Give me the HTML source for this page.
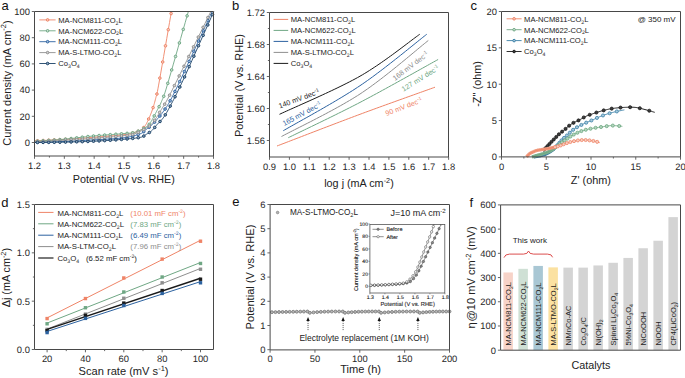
<!DOCTYPE html>
<html><head><meta charset="utf-8"><style>
html,body{margin:0;padding:0;background:#fff;}
svg{display:block;}
text{font-family:"Liberation Sans", sans-serif;}
.g{text-rendering:geometricPrecision;}
</style></head><body>
<svg xmlns="http://www.w3.org/2000/svg" width="685" height="378" viewBox="0 0 685 378" font-family='"Liberation Sans", sans-serif'>
<rect width="685" height="378" fill="#fff"/>
<text x="1.4" y="10.4" font-size="13" text-anchor="start" fill="#111">a</text>
<text x="232.1" y="9.9" font-size="13" text-anchor="start" fill="#111">b</text>
<text x="470.6" y="10.4" font-size="13" text-anchor="start" fill="#111">c</text>
<text x="1.3" y="206.6" font-size="13" text-anchor="start" fill="#111">d</text>
<text x="232.2" y="206.4" font-size="13" text-anchor="start" fill="#111">e</text>
<text x="469.6" y="206.6" font-size="13" text-anchor="start" fill="#111">f</text>
<g>
<polyline points="34.5,140.93 36.28,140.84 38.56,140.72 41.26,140.59 44.29,140.44 47.55,140.27 50.97,140.1 54.44,139.92 57.89,139.73 61.22,139.54 64.33,139.36 67.32,139.17 70.3,138.98 73.28,138.78 76.27,138.58 79.25,138.37 82.23,138.16 85.22,137.94 88.2,137.72 91.18,137.49 94.17,137.26 97.23,137.02 100.42,136.77 103.68,136.51 106.96,136.25 110.2,135.98 113.36,135.71 116.37,135.44 119.18,135.17 121.74,134.9 124,134.64 125.95,134.38 127.65,134.11 129.12,133.83 130.41,133.56 131.53,133.29 132.53,133.02 133.44,132.76 134.29,132.5 135.11,132.26 135.93,132.02 136.7,131.81 137.36,131.62 137.91,131.44 138.39,131.28 138.8,131.12 139.18,130.95 139.54,130.77 139.9,130.56 140.29,130.33 140.71,130.06 141.15,129.76 141.58,129.45 142.01,129.13 142.43,128.79 142.85,128.43 143.26,128.04 143.67,127.62 144.08,127.16 144.48,126.66 144.88,126.12 145.28,125.54 145.68,124.92 146.07,124.25 146.46,123.56 146.84,122.83 147.22,122.07 147.61,121.28 147.99,120.47 148.38,119.64 148.76,118.79 149.15,117.91 149.55,117.01 149.94,116.08 150.34,115.12 150.74,114.14 151.13,113.14 151.52,112.12 151.9,111.08 152.28,110.03 152.64,108.96 153,107.88 153.34,106.78 153.69,105.66 154.02,104.51 154.36,103.36 154.68,102.19 155,101.01 155.31,99.82 155.62,98.63 155.92,97.44 156.17,96.51 156.33,96 156.45,95.73 156.55,95.51 156.67,95.16 156.83,94.5 157.07,93.35 157.43,91.52 157.93,88.84 158.61,85.12 159.54,79.91 160.73,73.14 162.11,65.22 163.62,56.55 165.19,47.54 166.74,38.59 168.21,30.11 169.53,22.49 170.63,16.16 171.44,11.5" fill="none" stroke="#EF8467" stroke-width="0.9" stroke-linejoin="round"/>
<circle cx="37.5" cy="140.78" r="1.3" fill="#F8CDBF" stroke="#EF8467" stroke-width="1"/>
<circle cx="43.1" cy="140.5" r="1.3" fill="#F8CDBF" stroke="#EF8467" stroke-width="1"/>
<circle cx="48.7" cy="140.21" r="1.3" fill="#F8CDBF" stroke="#EF8467" stroke-width="1"/>
<circle cx="54.3" cy="139.92" r="1.3" fill="#F8CDBF" stroke="#EF8467" stroke-width="1"/>
<circle cx="59.9" cy="139.62" r="1.3" fill="#F8CDBF" stroke="#EF8467" stroke-width="1"/>
<circle cx="65.5" cy="139.28" r="1.3" fill="#F8CDBF" stroke="#EF8467" stroke-width="1"/>
<circle cx="71.1" cy="138.93" r="1.3" fill="#F8CDBF" stroke="#EF8467" stroke-width="1"/>
<circle cx="76.69" cy="138.55" r="1.3" fill="#F8CDBF" stroke="#EF8467" stroke-width="1"/>
<circle cx="82.29" cy="138.16" r="1.3" fill="#F8CDBF" stroke="#EF8467" stroke-width="1"/>
<circle cx="87.89" cy="137.74" r="1.3" fill="#F8CDBF" stroke="#EF8467" stroke-width="1"/>
<circle cx="93.49" cy="137.31" r="1.3" fill="#F8CDBF" stroke="#EF8467" stroke-width="1"/>
<circle cx="99.09" cy="136.87" r="1.3" fill="#F8CDBF" stroke="#EF8467" stroke-width="1"/>
<circle cx="104.69" cy="136.43" r="1.3" fill="#F8CDBF" stroke="#EF8467" stroke-width="1"/>
<circle cx="110.28" cy="135.98" r="1.3" fill="#F8CDBF" stroke="#EF8467" stroke-width="1"/>
<circle cx="115.88" cy="135.49" r="1.3" fill="#F8CDBF" stroke="#EF8467" stroke-width="1"/>
<circle cx="121.48" cy="134.93" r="1.3" fill="#F8CDBF" stroke="#EF8467" stroke-width="1"/>
<circle cx="127.08" cy="134.2" r="1.3" fill="#F8CDBF" stroke="#EF8467" stroke-width="1"/>
<circle cx="132.66" cy="132.98" r="1.3" fill="#F8CDBF" stroke="#EF8467" stroke-width="1"/>
<circle cx="138.24" cy="131.33" r="1.3" fill="#F8CDBF" stroke="#EF8467" stroke-width="1"/>
<circle cx="143.72" cy="127.56" r="1.3" fill="#F8CDBF" stroke="#EF8467" stroke-width="1"/>
<circle cx="148.67" cy="118.99" r="1.3" fill="#F8CDBF" stroke="#EF8467" stroke-width="1"/>
<circle cx="153.09" cy="107.57" r="1.3" fill="#F8CDBF" stroke="#EF8467" stroke-width="1"/>
<circle cx="156.93" cy="94.03" r="1.3" fill="#F8CDBF" stroke="#EF8467" stroke-width="1"/>
<circle cx="159.85" cy="78.12" r="1.3" fill="#F8CDBF" stroke="#EF8467" stroke-width="1"/>
<circle cx="162.68" cy="61.99" r="1.3" fill="#F8CDBF" stroke="#EF8467" stroke-width="1"/>
<circle cx="165.48" cy="45.84" r="1.3" fill="#F8CDBF" stroke="#EF8467" stroke-width="1"/>
<circle cx="168.28" cy="29.68" r="1.3" fill="#F8CDBF" stroke="#EF8467" stroke-width="1"/>
<circle cx="171.09" cy="13.51" r="1.3" fill="#F8CDBF" stroke="#EF8467" stroke-width="1"/>
<polyline points="34.5,141.32 36.29,141.2 38.61,141.05 41.35,140.88 44.43,140.68 47.74,140.46 51.18,140.23 54.66,139.99 58.08,139.74 61.34,139.48 64.33,139.22 67.11,138.96 69.8,138.67 72.42,138.38 75,138.07 77.57,137.75 80.16,137.43 82.78,137.12 85.48,136.8 88.27,136.5 91.18,136.21 94.33,135.93 97.73,135.64 101.31,135.35 104.98,135.06 108.65,134.78 112.24,134.51 115.66,134.25 118.81,134.01 121.62,133.79 124,133.59 125.92,133.43 127.47,133.32 128.7,133.23 129.68,133.16 130.47,133.1 131.14,133.04 131.75,132.96 132.36,132.86 133.04,132.73 133.84,132.54 134.73,132.32 135.59,132.07 136.43,131.8 137.25,131.51 138.06,131.19 138.85,130.86 139.63,130.52 140.39,130.15 141.15,129.78 141.9,129.4 142.65,129.01 143.4,128.6 144.14,128.18 144.87,127.74 145.59,127.29 146.29,126.82 146.96,126.34 147.6,125.85 148.2,125.34 148.76,124.81 149.27,124.28 149.72,123.73 150.14,123.17 150.51,122.6 150.87,122.01 151.21,121.4 151.55,120.78 151.89,120.13 152.25,119.47 152.64,118.79 153.04,118.08 153.45,117.36 153.86,116.61 154.27,115.85 154.68,115.06 155.1,114.26 155.52,113.45 155.95,112.62 156.38,111.78 156.82,110.93 157.26,110.09 157.69,109.28 158.13,108.47 158.58,107.66 159.03,106.82 159.48,105.94 159.95,104.99 160.43,103.97 160.93,102.86 161.44,101.63 161.91,100.53 162.28,99.7 162.62,99 162.95,98.29 163.32,97.4 163.77,96.18 164.35,94.5 165.1,92.19 166.05,89.12 167.26,85.12 168.84,79.74 170.84,72.88 173.13,64.91 175.61,56.25 178.17,47.28 180.7,38.39 183.09,29.97 185.24,22.43 187.03,16.14 188.35,11.5" fill="none" stroke="#6FA784" stroke-width="0.9" stroke-linejoin="round"/>
<circle cx="37.5" cy="141.12" r="1.3" fill="#CDE3D5" stroke="#6FA784" stroke-width="1"/>
<circle cx="43.1" cy="140.76" r="1.3" fill="#CDE3D5" stroke="#6FA784" stroke-width="1"/>
<circle cx="48.7" cy="140.4" r="1.3" fill="#CDE3D5" stroke="#6FA784" stroke-width="1"/>
<circle cx="54.3" cy="140.01" r="1.3" fill="#CDE3D5" stroke="#6FA784" stroke-width="1"/>
<circle cx="59.89" cy="139.59" r="1.3" fill="#CDE3D5" stroke="#6FA784" stroke-width="1"/>
<circle cx="65.49" cy="139.11" r="1.3" fill="#CDE3D5" stroke="#6FA784" stroke-width="1"/>
<circle cx="71.09" cy="138.53" r="1.3" fill="#CDE3D5" stroke="#6FA784" stroke-width="1"/>
<circle cx="76.69" cy="137.86" r="1.3" fill="#CDE3D5" stroke="#6FA784" stroke-width="1"/>
<circle cx="82.28" cy="137.18" r="1.3" fill="#CDE3D5" stroke="#6FA784" stroke-width="1"/>
<circle cx="87.88" cy="136.54" r="1.3" fill="#CDE3D5" stroke="#6FA784" stroke-width="1"/>
<circle cx="93.48" cy="136" r="1.3" fill="#CDE3D5" stroke="#6FA784" stroke-width="1"/>
<circle cx="99.08" cy="135.53" r="1.3" fill="#CDE3D5" stroke="#6FA784" stroke-width="1"/>
<circle cx="104.67" cy="135.08" r="1.3" fill="#CDE3D5" stroke="#6FA784" stroke-width="1"/>
<circle cx="110.27" cy="134.66" r="1.3" fill="#CDE3D5" stroke="#6FA784" stroke-width="1"/>
<circle cx="115.87" cy="134.23" r="1.3" fill="#CDE3D5" stroke="#6FA784" stroke-width="1"/>
<circle cx="121.47" cy="133.8" r="1.3" fill="#CDE3D5" stroke="#6FA784" stroke-width="1"/>
<circle cx="127.07" cy="133.35" r="1.3" fill="#CDE3D5" stroke="#6FA784" stroke-width="1"/>
<circle cx="132.66" cy="132.8" r="1.3" fill="#CDE3D5" stroke="#6FA784" stroke-width="1"/>
<circle cx="138.24" cy="131.12" r="1.3" fill="#CDE3D5" stroke="#6FA784" stroke-width="1"/>
<circle cx="143.78" cy="128.38" r="1.3" fill="#CDE3D5" stroke="#6FA784" stroke-width="1"/>
<circle cx="149.24" cy="124.31" r="1.3" fill="#CDE3D5" stroke="#6FA784" stroke-width="1"/>
<circle cx="154.23" cy="115.91" r="1.3" fill="#CDE3D5" stroke="#6FA784" stroke-width="1"/>
<circle cx="159.1" cy="106.68" r="1.3" fill="#CDE3D5" stroke="#6FA784" stroke-width="1"/>
<circle cx="163.74" cy="96.27" r="1.3" fill="#CDE3D5" stroke="#6FA784" stroke-width="1"/>
<circle cx="167.78" cy="83.35" r="1.3" fill="#CDE3D5" stroke="#6FA784" stroke-width="1"/>
<circle cx="171.68" cy="69.95" r="1.3" fill="#CDE3D5" stroke="#6FA784" stroke-width="1"/>
<circle cx="175.55" cy="56.45" r="1.3" fill="#CDE3D5" stroke="#6FA784" stroke-width="1"/>
<circle cx="179.41" cy="42.92" r="1.3" fill="#CDE3D5" stroke="#6FA784" stroke-width="1"/>
<circle cx="183.26" cy="29.38" r="1.3" fill="#CDE3D5" stroke="#6FA784" stroke-width="1"/>
<circle cx="187.11" cy="15.83" r="1.3" fill="#CDE3D5" stroke="#6FA784" stroke-width="1"/>
<polyline points="34.5,142.24 36.28,142.19 38.56,142.14 41.26,142.08 44.29,142.02 47.55,141.94 50.97,141.86 54.44,141.77 57.89,141.67 61.22,141.57 64.33,141.45 67.32,141.33 70.3,141.2 73.28,141.05 76.27,140.9 79.25,140.75 82.23,140.58 85.22,140.41 88.2,140.24 91.18,140.06 94.17,139.88 97.21,139.7 100.35,139.52 103.55,139.35 106.76,139.17 109.94,138.98 113.05,138.78 116.06,138.56 118.91,138.33 121.57,138.07 124,137.78 126.22,137.46 128.27,137.11 130.18,136.74 131.95,136.34 133.59,135.93 135.1,135.5 136.5,135.08 137.8,134.66 139,134.25 140.11,133.85 141.08,133.47 141.85,133.1 142.48,132.73 142.98,132.36 143.4,132 143.77,131.62 144.12,131.25 144.49,130.86 144.91,130.47 145.42,130.06 145.99,129.64 146.56,129.22 147.14,128.8 147.73,128.37 148.33,127.93 148.92,127.48 149.52,127.01 150.12,126.53 150.73,126.01 151.33,125.47 151.93,124.9 152.53,124.31 153.13,123.69 153.74,123.05 154.35,122.4 154.96,121.73 155.57,121.04 156.18,120.35 156.8,119.64 157.41,118.92 158.03,118.2 158.65,117.47 159.27,116.74 159.89,116 160.52,115.24 161.14,114.46 161.77,113.65 162.4,112.82 163.04,111.96 163.68,111.06 164.31,110.16 164.91,109.29 165.51,108.42 166.11,107.53 166.72,106.61 167.34,105.61 168,104.54 168.7,103.36 169.44,102.04 170.24,100.58 171.07,99.03 171.91,97.44 172.76,95.8 173.64,94.06 174.57,92.2 175.55,90.2 176.62,88.02 177.76,85.64 179.02,83.02 180.39,80.14 181.92,76.89 183.63,73.22 185.48,69.24 187.43,65.03 189.44,60.68 191.46,56.3 193.45,51.96 195.38,47.77 197.21,43.82 198.88,40.19 200.48,36.73 202.08,33.27 203.67,29.85 205.21,26.53 206.68,23.35 208.05,20.37 209.31,17.64 210.44,15.22 211.39,13.16 212.16,11.5" fill="none" stroke="#2C62A0" stroke-width="0.9" stroke-linejoin="round"/>
<circle cx="37.5" cy="142.17" r="1.3" fill="#A7C0DC" stroke="#2C62A0" stroke-width="1"/>
<circle cx="43.1" cy="142.04" r="1.3" fill="#A7C0DC" stroke="#2C62A0" stroke-width="1"/>
<circle cx="48.7" cy="141.92" r="1.3" fill="#A7C0DC" stroke="#2C62A0" stroke-width="1"/>
<circle cx="54.3" cy="141.77" r="1.3" fill="#A7C0DC" stroke="#2C62A0" stroke-width="1"/>
<circle cx="59.9" cy="141.61" r="1.3" fill="#A7C0DC" stroke="#2C62A0" stroke-width="1"/>
<circle cx="65.5" cy="141.4" r="1.3" fill="#A7C0DC" stroke="#2C62A0" stroke-width="1"/>
<circle cx="71.1" cy="141.16" r="1.3" fill="#A7C0DC" stroke="#2C62A0" stroke-width="1"/>
<circle cx="76.7" cy="140.88" r="1.3" fill="#A7C0DC" stroke="#2C62A0" stroke-width="1"/>
<circle cx="82.3" cy="140.58" r="1.3" fill="#A7C0DC" stroke="#2C62A0" stroke-width="1"/>
<circle cx="87.9" cy="140.26" r="1.3" fill="#A7C0DC" stroke="#2C62A0" stroke-width="1"/>
<circle cx="93.5" cy="139.92" r="1.3" fill="#A7C0DC" stroke="#2C62A0" stroke-width="1"/>
<circle cx="99.09" cy="139.59" r="1.3" fill="#A7C0DC" stroke="#2C62A0" stroke-width="1"/>
<circle cx="104.69" cy="139.28" r="1.3" fill="#A7C0DC" stroke="#2C62A0" stroke-width="1"/>
<circle cx="110.29" cy="138.96" r="1.3" fill="#A7C0DC" stroke="#2C62A0" stroke-width="1"/>
<circle cx="115.89" cy="138.58" r="1.3" fill="#A7C0DC" stroke="#2C62A0" stroke-width="1"/>
<circle cx="121.49" cy="138.08" r="1.3" fill="#A7C0DC" stroke="#2C62A0" stroke-width="1"/>
<circle cx="127.08" cy="137.32" r="1.3" fill="#A7C0DC" stroke="#2C62A0" stroke-width="1"/>
<circle cx="132.67" cy="136.16" r="1.3" fill="#A7C0DC" stroke="#2C62A0" stroke-width="1"/>
<circle cx="138.25" cy="134.51" r="1.3" fill="#A7C0DC" stroke="#2C62A0" stroke-width="1"/>
<circle cx="143.77" cy="131.62" r="1.3" fill="#A7C0DC" stroke="#2C62A0" stroke-width="1"/>
<circle cx="149.22" cy="127.25" r="1.3" fill="#A7C0DC" stroke="#2C62A0" stroke-width="1"/>
<circle cx="154.6" cy="122.12" r="1.3" fill="#A7C0DC" stroke="#2C62A0" stroke-width="1"/>
<circle cx="159.89" cy="116" r="1.3" fill="#A7C0DC" stroke="#2C62A0" stroke-width="1"/>
<circle cx="165.08" cy="109.05" r="1.3" fill="#A7C0DC" stroke="#2C62A0" stroke-width="1"/>
<circle cx="170.11" cy="100.82" r="1.3" fill="#A7C0DC" stroke="#2C62A0" stroke-width="1"/>
<circle cx="174.95" cy="91.43" r="1.3" fill="#A7C0DC" stroke="#2C62A0" stroke-width="1"/>
<circle cx="179.7" cy="81.58" r="1.3" fill="#A7C0DC" stroke="#2C62A0" stroke-width="1"/>
<circle cx="184.42" cy="71.52" r="1.3" fill="#A7C0DC" stroke="#2C62A0" stroke-width="1"/>
<circle cx="189.12" cy="61.37" r="1.3" fill="#A7C0DC" stroke="#2C62A0" stroke-width="1"/>
<circle cx="193.81" cy="51.18" r="1.3" fill="#A7C0DC" stroke="#2C62A0" stroke-width="1"/>
<circle cx="198.51" cy="41" r="1.3" fill="#A7C0DC" stroke="#2C62A0" stroke-width="1"/>
<circle cx="203.21" cy="30.85" r="1.3" fill="#A7C0DC" stroke="#2C62A0" stroke-width="1"/>
<circle cx="207.9" cy="20.69" r="1.3" fill="#A7C0DC" stroke="#2C62A0" stroke-width="1"/>
<polyline points="34.5,141.84 36.28,141.75 38.56,141.64 41.26,141.5 44.29,141.35 47.55,141.18 50.97,141.01 54.44,140.82 57.89,140.64 61.22,140.45 64.33,140.27 67.32,140.1 70.3,139.92 73.28,139.73 76.27,139.55 79.25,139.36 82.23,139.16 85.22,138.96 88.2,138.75 91.18,138.53 94.17,138.31 97.23,138.07 100.42,137.82 103.68,137.56 106.96,137.29 110.2,137.02 113.36,136.75 116.37,136.48 119.18,136.21 121.74,135.94 124,135.69 125.91,135.47 127.5,135.29 128.83,135.13 129.96,134.99 130.95,134.84 131.86,134.66 132.76,134.43 133.7,134.15 134.73,133.79 135.93,133.33 137.29,132.76 138.74,132.1 140.25,131.36 141.8,130.56 143.34,129.71 144.86,128.84 146.31,127.96 147.68,127.1 148.92,126.26 150.01,125.47 150.95,124.72 151.75,123.99 152.44,123.27 153.04,122.55 153.58,121.84 154.07,121.13 154.54,120.4 155.01,119.67 155.51,118.91 156.04,118.13 156.59,117.34 157.13,116.53 157.65,115.71 158.16,114.88 158.67,114.04 159.18,113.19 159.69,112.32 160.21,111.43 160.74,110.53 161.29,109.62 161.84,108.72 162.38,107.87 162.91,107.04 163.44,106.2 163.99,105.33 164.56,104.4 165.16,103.4 165.81,102.29 166.5,101.05 167.26,99.66 168.04,98.19 168.82,96.7 169.62,95.15 170.44,93.52 171.32,91.78 172.27,89.88 173.3,87.8 174.44,85.51 175.7,82.97 177.1,80.14 178.7,76.93 180.5,73.28 182.47,69.3 184.54,65.09 186.69,60.74 188.85,56.34 190.99,51.99 193.06,47.79 195.01,43.82 196.79,40.19 198.49,36.73 200.18,33.27 201.86,29.85 203.48,26.53 205.03,23.35 206.49,20.37 207.82,17.64 209,15.22 210.01,13.16 210.81,11.5" fill="none" stroke="#8E8E8E" stroke-width="0.9" stroke-linejoin="round"/>
<circle cx="37.5" cy="141.69" r="1.3" fill="#D2D2D2" stroke="#8E8E8E" stroke-width="1"/>
<circle cx="43.1" cy="141.41" r="1.3" fill="#D2D2D2" stroke="#8E8E8E" stroke-width="1"/>
<circle cx="48.7" cy="141.12" r="1.3" fill="#D2D2D2" stroke="#8E8E8E" stroke-width="1"/>
<circle cx="54.3" cy="140.83" r="1.3" fill="#D2D2D2" stroke="#8E8E8E" stroke-width="1"/>
<circle cx="59.9" cy="140.53" r="1.3" fill="#D2D2D2" stroke="#8E8E8E" stroke-width="1"/>
<circle cx="65.5" cy="140.2" r="1.3" fill="#D2D2D2" stroke="#8E8E8E" stroke-width="1"/>
<circle cx="71.1" cy="139.87" r="1.3" fill="#D2D2D2" stroke="#8E8E8E" stroke-width="1"/>
<circle cx="76.69" cy="139.52" r="1.3" fill="#D2D2D2" stroke="#8E8E8E" stroke-width="1"/>
<circle cx="82.29" cy="139.16" r="1.3" fill="#D2D2D2" stroke="#8E8E8E" stroke-width="1"/>
<circle cx="87.89" cy="138.77" r="1.3" fill="#D2D2D2" stroke="#8E8E8E" stroke-width="1"/>
<circle cx="93.49" cy="138.36" r="1.3" fill="#D2D2D2" stroke="#8E8E8E" stroke-width="1"/>
<circle cx="99.09" cy="137.93" r="1.3" fill="#D2D2D2" stroke="#8E8E8E" stroke-width="1"/>
<circle cx="104.69" cy="137.48" r="1.3" fill="#D2D2D2" stroke="#8E8E8E" stroke-width="1"/>
<circle cx="110.29" cy="137.02" r="1.3" fill="#D2D2D2" stroke="#8E8E8E" stroke-width="1"/>
<circle cx="115.88" cy="136.52" r="1.3" fill="#D2D2D2" stroke="#8E8E8E" stroke-width="1"/>
<circle cx="121.48" cy="135.97" r="1.3" fill="#D2D2D2" stroke="#8E8E8E" stroke-width="1"/>
<circle cx="127.08" cy="135.33" r="1.3" fill="#D2D2D2" stroke="#8E8E8E" stroke-width="1"/>
<circle cx="132.67" cy="134.46" r="1.3" fill="#D2D2D2" stroke="#8E8E8E" stroke-width="1"/>
<circle cx="138.23" cy="132.33" r="1.3" fill="#D2D2D2" stroke="#8E8E8E" stroke-width="1"/>
<circle cx="143.77" cy="129.47" r="1.3" fill="#D2D2D2" stroke="#8E8E8E" stroke-width="1"/>
<circle cx="149.27" cy="126.01" r="1.3" fill="#D2D2D2" stroke="#8E8E8E" stroke-width="1"/>
<circle cx="154.59" cy="120.33" r="1.3" fill="#D2D2D2" stroke="#8E8E8E" stroke-width="1"/>
<circle cx="159.65" cy="112.38" r="1.3" fill="#D2D2D2" stroke="#8E8E8E" stroke-width="1"/>
<circle cx="164.69" cy="104.19" r="1.3" fill="#D2D2D2" stroke="#8E8E8E" stroke-width="1"/>
<circle cx="169.59" cy="95.2" r="1.3" fill="#D2D2D2" stroke="#8E8E8E" stroke-width="1"/>
<circle cx="174.4" cy="85.6" r="1.3" fill="#D2D2D2" stroke="#8E8E8E" stroke-width="1"/>
<circle cx="179.19" cy="75.94" r="1.3" fill="#D2D2D2" stroke="#8E8E8E" stroke-width="1"/>
<circle cx="183.97" cy="66.25" r="1.3" fill="#D2D2D2" stroke="#8E8E8E" stroke-width="1"/>
<circle cx="188.76" cy="56.54" r="1.3" fill="#D2D2D2" stroke="#8E8E8E" stroke-width="1"/>
<circle cx="193.54" cy="46.82" r="1.3" fill="#D2D2D2" stroke="#8E8E8E" stroke-width="1"/>
<circle cx="198.32" cy="37.09" r="1.3" fill="#D2D2D2" stroke="#8E8E8E" stroke-width="1"/>
<circle cx="203.09" cy="27.33" r="1.3" fill="#D2D2D2" stroke="#8E8E8E" stroke-width="1"/>
<circle cx="207.86" cy="17.56" r="1.3" fill="#D2D2D2" stroke="#8E8E8E" stroke-width="1"/>
<polyline points="34.5,142.5 36.28,142.48 38.56,142.45 41.26,142.43 44.29,142.4 47.55,142.36 50.97,142.32 54.44,142.28 57.89,142.23 61.22,142.17 64.33,142.11 67.32,142.04 70.3,141.97 73.28,141.9 76.27,141.83 79.25,141.75 82.23,141.66 85.22,141.56 88.2,141.45 91.18,141.33 94.17,141.19 97.21,141.04 100.34,140.86 103.53,140.68 106.73,140.48 109.9,140.27 113.01,140.06 116.01,139.85 118.87,139.63 121.55,139.43 124,139.22 126.26,139.03 128.37,138.84 130.35,138.65 132.2,138.46 133.92,138.28 135.51,138.08 136.99,137.89 138.34,137.69 139.58,137.48 140.71,137.26 141.66,137.04 142.4,136.82 142.97,136.6 143.4,136.38 143.75,136.15 144.04,135.9 144.31,135.65 144.62,135.38 145,135.09 145.48,134.77 146.05,134.44 146.65,134.1 147.27,133.75 147.91,133.38 148.56,132.99 149.21,132.59 149.86,132.16 150.51,131.71 151.14,131.22 151.75,130.71 152.33,130.16 152.9,129.57 153.46,128.95 154.01,128.31 154.56,127.64 155.11,126.96 155.67,126.26 156.23,125.56 156.81,124.86 157.41,124.16 158.03,123.49 158.65,122.84 159.28,122.22 159.92,121.58 160.56,120.93 161.22,120.25 161.89,119.51 162.57,118.71 163.27,117.82 163.98,116.82 164.69,115.76 165.39,114.65 166.1,113.5 166.82,112.28 167.56,110.99 168.32,109.63 169.11,108.18 169.93,106.63 170.81,104.97 171.73,103.2 172.69,101.35 173.67,99.46 174.66,97.51 175.7,95.47 176.77,93.32 177.89,91.04 179.07,88.6 180.33,85.99 181.65,83.18 183.07,80.14 184.62,76.78 186.31,73.05 188.12,69.04 190,64.84 191.93,60.52 193.86,56.17 195.77,51.88 197.61,47.73 199.36,43.8 200.97,40.19 202.52,36.73 204.07,33.27 205.6,29.85 207.08,26.53 208.5,23.35 209.83,20.37 211.05,17.64 212.13,15.22 213.06,13.16 213.8,11.5" fill="none" stroke="#1B4267" stroke-width="0.9" stroke-linejoin="round"/>
<circle cx="37.5" cy="142.47" r="1.3" fill="#8FA6BE" stroke="#1B4267" stroke-width="1"/>
<circle cx="43.1" cy="142.41" r="1.3" fill="#8FA6BE" stroke="#1B4267" stroke-width="1"/>
<circle cx="48.7" cy="142.35" r="1.3" fill="#8FA6BE" stroke="#1B4267" stroke-width="1"/>
<circle cx="54.3" cy="142.28" r="1.3" fill="#8FA6BE" stroke="#1B4267" stroke-width="1"/>
<circle cx="59.9" cy="142.19" r="1.3" fill="#8FA6BE" stroke="#1B4267" stroke-width="1"/>
<circle cx="65.5" cy="142.08" r="1.3" fill="#8FA6BE" stroke="#1B4267" stroke-width="1"/>
<circle cx="71.1" cy="141.96" r="1.3" fill="#8FA6BE" stroke="#1B4267" stroke-width="1"/>
<circle cx="76.7" cy="141.82" r="1.3" fill="#8FA6BE" stroke="#1B4267" stroke-width="1"/>
<circle cx="82.3" cy="141.66" r="1.3" fill="#8FA6BE" stroke="#1B4267" stroke-width="1"/>
<circle cx="87.9" cy="141.46" r="1.3" fill="#8FA6BE" stroke="#1B4267" stroke-width="1"/>
<circle cx="93.5" cy="141.22" r="1.3" fill="#8FA6BE" stroke="#1B4267" stroke-width="1"/>
<circle cx="99.1" cy="140.93" r="1.3" fill="#8FA6BE" stroke="#1B4267" stroke-width="1"/>
<circle cx="104.7" cy="140.61" r="1.3" fill="#8FA6BE" stroke="#1B4267" stroke-width="1"/>
<circle cx="110.3" cy="140.25" r="1.3" fill="#8FA6BE" stroke="#1B4267" stroke-width="1"/>
<circle cx="115.89" cy="139.86" r="1.3" fill="#8FA6BE" stroke="#1B4267" stroke-width="1"/>
<circle cx="121.49" cy="139.43" r="1.3" fill="#8FA6BE" stroke="#1B4267" stroke-width="1"/>
<circle cx="127.09" cy="138.96" r="1.3" fill="#8FA6BE" stroke="#1B4267" stroke-width="1"/>
<circle cx="132.69" cy="138.41" r="1.3" fill="#8FA6BE" stroke="#1B4267" stroke-width="1"/>
<circle cx="138.28" cy="137.69" r="1.3" fill="#8FA6BE" stroke="#1B4267" stroke-width="1"/>
<circle cx="143.86" cy="136.05" r="1.3" fill="#8FA6BE" stroke="#1B4267" stroke-width="1"/>
<circle cx="149.35" cy="132.5" r="1.3" fill="#8FA6BE" stroke="#1B4267" stroke-width="1"/>
<circle cx="154.73" cy="127.43" r="1.3" fill="#8FA6BE" stroke="#1B4267" stroke-width="1"/>
<circle cx="160.04" cy="121.46" r="1.3" fill="#8FA6BE" stroke="#1B4267" stroke-width="1"/>
<circle cx="165.27" cy="114.85" r="1.3" fill="#8FA6BE" stroke="#1B4267" stroke-width="1"/>
<circle cx="170.21" cy="106.1" r="1.3" fill="#8FA6BE" stroke="#1B4267" stroke-width="1"/>
<circle cx="175.05" cy="96.74" r="1.3" fill="#8FA6BE" stroke="#1B4267" stroke-width="1"/>
<circle cx="179.83" cy="87.01" r="1.3" fill="#8FA6BE" stroke="#1B4267" stroke-width="1"/>
<circle cx="184.55" cy="76.93" r="1.3" fill="#8FA6BE" stroke="#1B4267" stroke-width="1"/>
<circle cx="189.21" cy="66.6" r="1.3" fill="#8FA6BE" stroke="#1B4267" stroke-width="1"/>
<circle cx="193.86" cy="56.18" r="1.3" fill="#8FA6BE" stroke="#1B4267" stroke-width="1"/>
<circle cx="198.5" cy="45.73" r="1.3" fill="#8FA6BE" stroke="#1B4267" stroke-width="1"/>
<circle cx="203.15" cy="35.32" r="1.3" fill="#8FA6BE" stroke="#1B4267" stroke-width="1"/>
<circle cx="207.8" cy="24.92" r="1.3" fill="#8FA6BE" stroke="#1B4267" stroke-width="1"/>
<circle cx="212.45" cy="14.52" r="1.3" fill="#8FA6BE" stroke="#1B4267" stroke-width="1"/>
</g>
<path d="M34.5,11.5 H213.5 V156 H34.5 Z" fill="none" stroke="#484848" stroke-width="1"/>
<line x1="31.8" y1="142.5" x2="34.5" y2="142.5" stroke="#555" stroke-width="0.9"/>
<text x="29.9" y="145.88" font-size="9.4" text-anchor="end" fill="#262626" class="g">0</text>
<line x1="31.8" y1="116.3" x2="34.5" y2="116.3" stroke="#555" stroke-width="0.9"/>
<text x="29.9" y="119.68" font-size="9.4" text-anchor="end" fill="#262626" class="g">20</text>
<line x1="31.8" y1="90.1" x2="34.5" y2="90.1" stroke="#555" stroke-width="0.9"/>
<text x="29.9" y="93.48" font-size="9.4" text-anchor="end" fill="#262626" class="g">40</text>
<line x1="31.8" y1="63.9" x2="34.5" y2="63.9" stroke="#555" stroke-width="0.9"/>
<text x="29.9" y="67.28" font-size="9.4" text-anchor="end" fill="#262626" class="g">60</text>
<line x1="31.8" y1="37.7" x2="34.5" y2="37.7" stroke="#555" stroke-width="0.9"/>
<text x="29.9" y="41.08" font-size="9.4" text-anchor="end" fill="#262626" class="g">80</text>
<line x1="31.8" y1="11.5" x2="34.5" y2="11.5" stroke="#555" stroke-width="0.9"/>
<text x="29.9" y="14.88" font-size="9.4" text-anchor="end" fill="#262626" class="g">100</text>
<line x1="34.5" y1="156" x2="34.5" y2="158.8" stroke="#555" stroke-width="0.9"/>
<text x="34.5" y="168.6" font-size="9.4" text-anchor="middle" fill="#262626" class="g">1.2</text>
<line x1="64.33" y1="156" x2="64.33" y2="158.8" stroke="#555" stroke-width="0.9"/>
<text x="64.33" y="168.6" font-size="9.4" text-anchor="middle" fill="#262626" class="g">1.3</text>
<line x1="94.17" y1="156" x2="94.17" y2="158.8" stroke="#555" stroke-width="0.9"/>
<text x="94.17" y="168.6" font-size="9.4" text-anchor="middle" fill="#262626" class="g">1.4</text>
<line x1="124" y1="156" x2="124" y2="158.8" stroke="#555" stroke-width="0.9"/>
<text x="124" y="168.6" font-size="9.4" text-anchor="middle" fill="#262626" class="g">1.5</text>
<line x1="153.83" y1="156" x2="153.83" y2="158.8" stroke="#555" stroke-width="0.9"/>
<text x="153.83" y="168.6" font-size="9.4" text-anchor="middle" fill="#262626" class="g">1.6</text>
<line x1="183.67" y1="156" x2="183.67" y2="158.8" stroke="#555" stroke-width="0.9"/>
<text x="183.67" y="168.6" font-size="9.4" text-anchor="middle" fill="#262626" class="g">1.7</text>
<line x1="213.5" y1="156" x2="213.5" y2="158.8" stroke="#555" stroke-width="0.9"/>
<text x="213.5" y="168.6" font-size="9.4" text-anchor="middle" fill="#262626" class="g">1.8</text>
<line x1="49.42" y1="156" x2="49.42" y2="157.6" stroke="#555" stroke-width="0.9"/>
<line x1="79.25" y1="156" x2="79.25" y2="157.6" stroke="#555" stroke-width="0.9"/>
<line x1="109.08" y1="156" x2="109.08" y2="157.6" stroke="#555" stroke-width="0.9"/>
<line x1="138.92" y1="156" x2="138.92" y2="157.6" stroke="#555" stroke-width="0.9"/>
<line x1="168.75" y1="156" x2="168.75" y2="157.6" stroke="#555" stroke-width="0.9"/>
<line x1="198.58" y1="156" x2="198.58" y2="157.6" stroke="#555" stroke-width="0.9"/>
<text x="123.8" y="182.6" font-size="10.8" text-anchor="middle" fill="#222">Potential (V vs. RHE)</text>
<text x="10.5" y="83" font-size="11" text-anchor="middle" fill="#222" transform="rotate(-90 10.5 83)">Current density (mA cm<tspan class="g" font-size="7.48" dy="-4.4">-2</tspan><tspan dy="4.4">)</tspan></text>
<line x1="39.3" y1="19.9" x2="55.6" y2="19.9" stroke="#EF8467" stroke-width="0.9"/>
<circle cx="47.6" cy="19.9" r="1.3" fill="#F8CDBF" stroke="#EF8467" stroke-width="1"/>
<text x="58.3" y="22.6" font-size="7.6" text-anchor="start" fill="#222">MA-NCM811-CO<tspan class="g" font-size="5.17" dy="1.9">2</tspan><tspan dy="-1.9">L</tspan></text>
<line x1="39.3" y1="30.8" x2="55.6" y2="30.8" stroke="#6FA784" stroke-width="0.9"/>
<circle cx="47.6" cy="30.8" r="1.3" fill="#CDE3D5" stroke="#6FA784" stroke-width="1"/>
<text x="58.3" y="33.5" font-size="7.6" text-anchor="start" fill="#222">MA-NCM622-CO<tspan class="g" font-size="5.17" dy="1.9">2</tspan><tspan dy="-1.9">L</tspan></text>
<line x1="39.3" y1="41.7" x2="55.6" y2="41.7" stroke="#2C62A0" stroke-width="0.9"/>
<circle cx="47.6" cy="41.7" r="1.3" fill="#A7C0DC" stroke="#2C62A0" stroke-width="1"/>
<text x="58.3" y="44.4" font-size="7.6" text-anchor="start" fill="#222">MA-NCM111-CO<tspan class="g" font-size="5.17" dy="1.9">2</tspan><tspan dy="-1.9">L</tspan></text>
<line x1="39.3" y1="52.6" x2="55.6" y2="52.6" stroke="#8E8E8E" stroke-width="0.9"/>
<circle cx="47.6" cy="52.6" r="1.3" fill="#D2D2D2" stroke="#8E8E8E" stroke-width="1"/>
<text x="58.3" y="55.3" font-size="7.6" text-anchor="start" fill="#222">MA-S-LTMO-CO<tspan class="g" font-size="5.17" dy="1.9">2</tspan><tspan dy="-1.9">L</tspan></text>
<line x1="39.3" y1="63.5" x2="55.6" y2="63.5" stroke="#1B4267" stroke-width="0.9"/>
<circle cx="47.6" cy="63.5" r="1.3" fill="#8FA6BE" stroke="#1B4267" stroke-width="1"/>
<text x="58.3" y="66.2" font-size="7.6" text-anchor="start" fill="#222">Co<tspan class="g" font-size="5.17" dy="1.9">3</tspan><tspan dy="-1.9">O</tspan><tspan class="g" font-size="5.17" dy="1.9">4</tspan><tspan dy="-1.9"></tspan></text>
<polyline points="277,146 278.48,145.43 280.14,144.8 281.97,144.09 283.97,143.33 286.12,142.5 288.42,141.62 290.84,140.68 293.39,139.7 296.05,138.68 298.81,137.61 301.67,136.51 304.61,135.38 307.62,134.22 310.69,133.04 313.81,131.84 316.98,130.63 320.17,129.4 323.39,128.17 326.62,126.93 329.85,125.7 333.07,124.47 336.28,123.25 339.45,122.04 342.58,120.85 345.67,119.68 348.69,118.54 351.65,117.43 354.53,116.35 357.31,115.3 360,114.3 362.66,113.31 365.39,112.3 368.16,111.28 370.98,110.25 373.83,109.2 376.71,108.15 379.61,107.1 382.53,106.04 385.45,104.98 388.37,103.92 391.28,102.87 394.18,101.83 397.05,100.79 399.89,99.77 402.69,98.77 405.44,97.78 408.14,96.81 410.78,95.87 413.36,94.95 415.85,94.06 418.26,93.19 420.59,92.36 422.81,91.57 424.93,90.81 426.93,90.1 428.82,89.42 430.57,88.79 432.19,88.21 433.67,87.68 435,87.2" fill="none" stroke="#EF8467" stroke-width="1" stroke-linejoin="round"/>
<polyline points="288.3,137.7 289.57,137.08 290.98,136.39 292.54,135.63 294.22,134.82 296.03,133.95 297.95,133.02 299.98,132.04 302.11,131.02 304.34,129.94 306.65,128.83 309.04,127.68 311.51,126.49 314.04,125.26 316.63,124.01 319.27,122.73 321.95,121.43 324.67,120.1 327.42,118.76 330.19,117.41 332.97,116.04 335.76,114.66 338.55,113.28 341.33,111.89 344.1,110.51 346.85,109.13 349.57,107.76 352.25,106.4 354.89,105.05 357.47,103.71 360,102.4 362.55,101.07 365.18,99.67 367.9,98.22 370.69,96.73 373.55,95.19 376.46,93.62 379.41,92.02 382.4,90.39 385.42,88.74 388.45,87.07 391.49,85.4 394.53,83.73 397.55,82.06 400.56,80.39 403.53,78.74 406.47,77.11 409.35,75.51 412.18,73.94 414.93,72.4 417.61,70.9 420.21,69.46 422.71,68.06 425.1,66.73 427.38,65.46 429.53,64.26 431.55,63.13 433.42,62.09 435.15,61.13 436.71,60.27 438.1,59.5" fill="none" stroke="#6FA784" stroke-width="1" stroke-linejoin="round"/>
<polyline points="281.5,136.5 282.9,135.75 284.48,134.92 286.22,134.02 288.11,133.05 290.16,132 292.34,130.9 294.65,129.73 297.07,128.5 299.6,127.22 302.23,125.89 304.94,124.51 307.74,123.09 310.6,121.63 313.52,120.13 316.48,118.59 319.48,117.03 322.52,115.44 325.57,113.83 328.62,112.2 331.68,110.56 334.73,108.9 337.75,107.23 340.74,105.56 343.7,103.88 346.6,102.21 349.44,100.54 352.21,98.89 354.9,97.24 357.5,95.61 360,94 362.47,92.36 364.99,90.64 367.55,88.85 370.14,87.01 372.76,85.1 375.41,83.15 378.06,81.15 380.73,79.13 383.39,77.07 386.05,75 388.7,72.91 391.33,70.82 393.94,68.74 396.52,66.66 399.06,64.59 401.55,62.55 404,60.55 406.39,58.58 408.71,56.65 410.97,54.78 413.15,52.96 415.25,51.22 417.26,49.54 419.17,47.95 420.99,46.45 422.69,45.04 424.28,43.73 425.75,42.54 427.09,41.46 428.3,40.5" fill="none" stroke="#8E8E8E" stroke-width="1" stroke-linejoin="round"/>
<polyline points="283.3,130.7 284.67,129.9 286.21,129.02 287.91,128.05 289.76,127 291.76,125.88 293.89,124.68 296.15,123.42 298.51,122.09 300.99,120.71 303.56,119.27 306.21,117.78 308.94,116.25 311.73,114.67 314.58,113.06 317.48,111.41 320.42,109.74 323.38,108.04 326.36,106.32 329.35,104.59 332.33,102.84 335.31,101.09 338.26,99.33 341.19,97.58 344.07,95.83 346.91,94.09 349.68,92.37 352.39,90.66 355.02,88.98 357.56,87.32 360,85.7 362.41,84.06 364.88,82.35 367.38,80.59 369.91,78.77 372.47,76.91 375.05,75.01 377.64,73.07 380.24,71.11 382.85,69.13 385.44,67.14 388.03,65.14 390.6,63.13 393.15,61.14 395.66,59.15 398.14,57.19 400.58,55.25 402.97,53.34 405.3,51.47 407.57,49.64 409.78,47.86 411.91,46.14 413.96,44.49 415.92,42.9 417.79,41.39 419.56,39.97 421.22,38.63 422.78,37.39 424.21,36.25 425.52,35.22 426.7,34.3" fill="none" stroke="#2C62A0" stroke-width="1" stroke-linejoin="round"/>
<polyline points="279.5,114.3 280.94,113.63 282.57,112.87 284.38,112.05 286.36,111.16 288.5,110.2 290.78,109.18 293.2,108.1 295.74,106.97 298.39,105.79 301.14,104.56 303.98,103.29 306.9,101.99 309.89,100.64 312.93,99.27 316.02,97.87 319.14,96.44 322.28,95 325.43,93.54 328.59,92.07 331.73,90.59 334.84,89.11 337.93,87.63 340.96,86.15 343.94,84.67 346.86,83.21 349.69,81.76 352.43,80.34 355.07,78.93 357.6,77.55 360,76.2 362.35,74.84 364.71,73.43 367.08,71.98 369.46,70.48 371.84,68.95 374.23,67.39 376.6,65.81 378.97,64.21 381.32,62.59 383.65,60.96 385.96,59.33 388.24,57.7 390.49,56.08 392.71,54.47 394.88,52.87 397.01,51.29 399.09,49.74 401.12,48.23 403.09,46.74 404.99,45.3 406.83,43.91 408.6,42.57 410.3,41.28 411.91,40.06 413.45,38.9 414.89,37.82 416.24,36.81 417.5,35.88 418.65,35.05 419.7,34.3" fill="none" stroke="#1a1a1a" stroke-width="1" stroke-linejoin="round"/>
<path d="M269.5,12.5 H448.5 V157 H269.5 Z" fill="none" stroke="#484848" stroke-width="1"/>
<line x1="266.8" y1="140.5" x2="269.5" y2="140.5" stroke="#555" stroke-width="0.9"/>
<text x="264.9" y="143.88" font-size="9.4" text-anchor="end" fill="#262626" class="g">1.56</text>
<line x1="266.8" y1="108.5" x2="269.5" y2="108.5" stroke="#555" stroke-width="0.9"/>
<text x="264.9" y="111.88" font-size="9.4" text-anchor="end" fill="#262626" class="g">1.60</text>
<line x1="266.8" y1="76.5" x2="269.5" y2="76.5" stroke="#555" stroke-width="0.9"/>
<text x="264.9" y="79.88" font-size="9.4" text-anchor="end" fill="#262626" class="g">1.64</text>
<line x1="266.8" y1="44.5" x2="269.5" y2="44.5" stroke="#555" stroke-width="0.9"/>
<text x="264.9" y="47.88" font-size="9.4" text-anchor="end" fill="#262626" class="g">1.68</text>
<line x1="266.8" y1="12.5" x2="269.5" y2="12.5" stroke="#555" stroke-width="0.9"/>
<text x="264.9" y="15.88" font-size="9.4" text-anchor="end" fill="#262626" class="g">1.72</text>
<line x1="267.9" y1="124.5" x2="269.5" y2="124.5" stroke="#555" stroke-width="0.9"/>
<line x1="267.9" y1="92.5" x2="269.5" y2="92.5" stroke="#555" stroke-width="0.9"/>
<line x1="267.9" y1="60.5" x2="269.5" y2="60.5" stroke="#555" stroke-width="0.9"/>
<line x1="267.9" y1="28.5" x2="269.5" y2="28.5" stroke="#555" stroke-width="0.9"/>
<line x1="269.5" y1="157" x2="269.5" y2="159.8" stroke="#555" stroke-width="0.9"/>
<text x="269.5" y="170" font-size="9.4" text-anchor="middle" fill="#262626" class="g">0.9</text>
<line x1="289.4" y1="157" x2="289.4" y2="159.8" stroke="#555" stroke-width="0.9"/>
<text x="289.4" y="170" font-size="9.4" text-anchor="middle" fill="#262626" class="g">1.0</text>
<line x1="309.3" y1="157" x2="309.3" y2="159.8" stroke="#555" stroke-width="0.9"/>
<text x="309.3" y="170" font-size="9.4" text-anchor="middle" fill="#262626" class="g">1.1</text>
<line x1="329.2" y1="157" x2="329.2" y2="159.8" stroke="#555" stroke-width="0.9"/>
<text x="329.2" y="170" font-size="9.4" text-anchor="middle" fill="#262626" class="g">1.2</text>
<line x1="349.1" y1="157" x2="349.1" y2="159.8" stroke="#555" stroke-width="0.9"/>
<text x="349.1" y="170" font-size="9.4" text-anchor="middle" fill="#262626" class="g">1.3</text>
<line x1="369" y1="157" x2="369" y2="159.8" stroke="#555" stroke-width="0.9"/>
<text x="369" y="170" font-size="9.4" text-anchor="middle" fill="#262626" class="g">1.4</text>
<line x1="388.9" y1="157" x2="388.9" y2="159.8" stroke="#555" stroke-width="0.9"/>
<text x="388.9" y="170" font-size="9.4" text-anchor="middle" fill="#262626" class="g">1.5</text>
<line x1="408.8" y1="157" x2="408.8" y2="159.8" stroke="#555" stroke-width="0.9"/>
<text x="408.8" y="170" font-size="9.4" text-anchor="middle" fill="#262626" class="g">1.6</text>
<line x1="428.7" y1="157" x2="428.7" y2="159.8" stroke="#555" stroke-width="0.9"/>
<text x="428.7" y="170" font-size="9.4" text-anchor="middle" fill="#262626" class="g">1.7</text>
<line x1="448.6" y1="157" x2="448.6" y2="159.8" stroke="#555" stroke-width="0.9"/>
<text x="448.6" y="170" font-size="9.4" text-anchor="middle" fill="#262626" class="g">1.8</text>
<text x="359" y="187.3" font-size="10.8" text-anchor="middle" fill="#222">log j (mA cm<tspan class="g" font-size="7.34" dy="-4.32">-2</tspan><tspan dy="4.32">)</tspan></text>
<text x="242.8" y="85.5" font-size="10.9" text-anchor="middle" fill="#222" transform="rotate(-90 242.8 85.5)">Potential (V vs. RHE)</text>
<line x1="273.6" y1="19.4" x2="288.2" y2="19.4" stroke="#EF8467" stroke-width="1"/>
<text x="290.8" y="22.1" font-size="7.6" text-anchor="start" fill="#222">MA-NCM811-CO<tspan class="g" font-size="5.17" dy="1.9">2</tspan><tspan dy="-1.9">L</tspan></text>
<line x1="273.6" y1="30.4" x2="288.2" y2="30.4" stroke="#6FA784" stroke-width="1"/>
<text x="290.8" y="33.1" font-size="7.6" text-anchor="start" fill="#222">MA-NCM622-CO<tspan class="g" font-size="5.17" dy="1.9">2</tspan><tspan dy="-1.9">L</tspan></text>
<line x1="273.6" y1="41.4" x2="288.2" y2="41.4" stroke="#2C62A0" stroke-width="1"/>
<text x="290.8" y="44.1" font-size="7.6" text-anchor="start" fill="#222">MA-NCM111-CO<tspan class="g" font-size="5.17" dy="1.9">2</tspan><tspan dy="-1.9">L</tspan></text>
<line x1="273.6" y1="52.4" x2="288.2" y2="52.4" stroke="#8E8E8E" stroke-width="1"/>
<text x="290.8" y="55.1" font-size="7.6" text-anchor="start" fill="#222">MA-S-LTMO-CO<tspan class="g" font-size="5.17" dy="1.9">2</tspan><tspan dy="-1.9">L</tspan></text>
<line x1="273.6" y1="63.4" x2="288.2" y2="63.4" stroke="#1a1a1a" stroke-width="1"/>
<text x="290.8" y="66.1" font-size="7.6" text-anchor="start" fill="#222">Co<tspan class="g" font-size="5.17" dy="1.9">3</tspan><tspan dy="-1.9">O</tspan><tspan class="g" font-size="5.17" dy="1.9">4</tspan><tspan dy="-1.9"></tspan></text>
<text x="279.8" y="108.4" font-size="7.2" text-anchor="start" fill="#1a1a1a" transform="rotate(-20 279.8 108.4)">140 mV dec<tspan class="g" font-size="4.9" dy="-2.88">-1</tspan><tspan dy="2.88"></tspan></text>
<text x="284.2" y="126" font-size="7.2" text-anchor="start" fill="#2C62A0" transform="rotate(-28 284.2 126)">165 mV dec<tspan class="g" font-size="4.9" dy="-2.88">-1</tspan><tspan dy="2.88"></tspan></text>
<text x="395" y="80.9" font-size="7.2" text-anchor="start" fill="#8E8E8E" transform="rotate(-37 395 80.9)">168 mV dec<tspan class="g" font-size="4.9" dy="-2.88">-1</tspan><tspan dy="2.88"></tspan></text>
<text x="403.6" y="91.8" font-size="7.2" text-anchor="start" fill="#6FA784" transform="rotate(-32 403.6 91.8)">127 mV dec<tspan class="g" font-size="4.9" dy="-2.88">-1</tspan><tspan dy="2.88"></tspan></text>
<text x="386.6" y="116" font-size="7.2" text-anchor="start" fill="#EF8467" transform="rotate(-21 386.6 116)">90 mV dec<tspan class="g" font-size="4.9" dy="-2.88">-1</tspan><tspan dy="2.88"></tspan></text>
<polyline points="544.01,149.63 544.12,149.53 544.24,149.42 544.39,149.29 544.55,149.14 544.73,148.98 544.93,148.79 545.16,148.57 545.41,148.32 545.68,148.05 545.98,147.74 546.32,147.39 546.69,146.98 547.1,146.54 547.53,146.07 547.98,145.57 548.45,145.07 548.92,144.55 549.38,144.05 549.84,143.56 550.28,143.09 550.7,142.64 551.12,142.2 551.53,141.77 551.94,141.35 552.35,140.92 552.76,140.49 553.19,140.06 553.63,139.61 554.09,139.14 554.57,138.65 555.08,138.13 555.63,137.58 556.19,136.99 556.78,136.4 557.36,135.8 557.95,135.21 558.53,134.63 559.09,134.09 559.62,133.58 560.12,133.13 560.59,132.73 561.02,132.38 561.43,132.08 561.83,131.8 562.21,131.54 562.59,131.28 562.97,131.03 563.35,130.76 563.74,130.47 564.15,130.15 564.56,129.79 564.98,129.41 565.39,129.02 565.81,128.62 566.23,128.22 566.65,127.8 567.08,127.4 567.53,126.99 567.98,126.6 568.45,126.22 568.93,125.85 569.41,125.49 569.91,125.12 570.42,124.77 570.94,124.41 571.46,124.06 571.99,123.72 572.53,123.38 573.08,123.05 573.64,122.73 574.2,122.42 574.78,122.12 575.36,121.84 575.95,121.56 576.55,121.29 577.16,121.01 577.77,120.73 578.39,120.44 579.01,120.14 579.63,119.82 580.26,119.49 580.88,119.13 581.51,118.76 582.14,118.39 582.77,118.01 583.42,117.62 584.08,117.25 584.75,116.88 585.45,116.53 586.17,116.19 586.9,115.87 587.66,115.56 588.43,115.26 589.21,114.97 590.01,114.69 590.82,114.41 591.65,114.13 592.5,113.85 593.35,113.57 594.22,113.28 595.11,112.99 596.02,112.68 596.95,112.38 597.9,112.07 598.85,111.77 599.82,111.47 600.79,111.18 601.77,110.9 602.74,110.63 603.71,110.37 604.67,110.13 605.64,109.89 606.61,109.66 607.57,109.44 608.55,109.23 609.53,109.03 610.52,108.84 611.52,108.66 612.53,108.49 613.55,108.34 614.6,108.19 615.66,108.06 616.73,107.94 617.81,107.83 618.91,107.74 620,107.65 621.1,107.57 622.2,107.5 623.3,107.44 624.38,107.39 625.47,107.34 626.57,107.3 627.66,107.25 628.76,107.22 629.86,107.2 630.95,107.19 632.04,107.2 633.11,107.24 634.17,107.3 635.21,107.39 636.24,107.52 637.25,107.68 638.24,107.87 639.23,108.08 640.21,108.31 641.18,108.55 642.15,108.81 643.12,109.06 644.09,109.32 645.06,109.57 646.08,109.84 647.16,110.13 648.28,110.45 649.4,110.77 650.51,111.09 651.56,111.4 652.54,111.69 653.41,111.95 654.15,112.17 654.72,112.33" fill="none" stroke="#1a1a1a" stroke-width="1" stroke-linejoin="round"/>
<circle cx="544.01" cy="149.63" r="1.55" fill="#3c3c3c" stroke="#1a1a1a" stroke-width="0.8"/>
<circle cx="545.75" cy="147.98" r="1.55" fill="#3c3c3c" stroke="#1a1a1a" stroke-width="0.8"/>
<circle cx="547.52" cy="146.08" r="1.55" fill="#3c3c3c" stroke="#1a1a1a" stroke-width="0.8"/>
<circle cx="549.41" cy="144.02" r="1.55" fill="#3c3c3c" stroke="#1a1a1a" stroke-width="0.8"/>
<circle cx="551.49" cy="141.82" r="1.55" fill="#3c3c3c" stroke="#1a1a1a" stroke-width="0.8"/>
<circle cx="553.76" cy="139.48" r="1.55" fill="#3c3c3c" stroke="#1a1a1a" stroke-width="0.8"/>
<circle cx="556.23" cy="136.96" r="1.55" fill="#3c3c3c" stroke="#1a1a1a" stroke-width="0.8"/>
<circle cx="558.91" cy="134.26" r="1.55" fill="#3c3c3c" stroke="#1a1a1a" stroke-width="0.8"/>
<circle cx="562.07" cy="131.63" r="1.55" fill="#3c3c3c" stroke="#1a1a1a" stroke-width="0.8"/>
<circle cx="565.54" cy="128.88" r="1.55" fill="#3c3c3c" stroke="#1a1a1a" stroke-width="0.8"/>
<circle cx="569.13" cy="125.7" r="1.55" fill="#3c3c3c" stroke="#1a1a1a" stroke-width="0.8"/>
<circle cx="573.45" cy="122.84" r="1.55" fill="#3c3c3c" stroke="#1a1a1a" stroke-width="0.8"/>
<circle cx="578.48" cy="120.4" r="1.55" fill="#3c3c3c" stroke="#1a1a1a" stroke-width="0.8"/>
<circle cx="583.75" cy="117.44" r="1.55" fill="#3c3c3c" stroke="#1a1a1a" stroke-width="0.8"/>
<circle cx="589.71" cy="114.8" r="1.55" fill="#3c3c3c" stroke="#1a1a1a" stroke-width="0.8"/>
<circle cx="596.39" cy="112.56" r="1.55" fill="#3c3c3c" stroke="#1a1a1a" stroke-width="0.8"/>
<circle cx="603.68" cy="110.38" r="1.55" fill="#3c3c3c" stroke="#1a1a1a" stroke-width="0.8"/>
<circle cx="611.71" cy="108.63" r="1.55" fill="#3c3c3c" stroke="#1a1a1a" stroke-width="0.8"/>
<circle cx="620.53" cy="107.61" r="1.55" fill="#3c3c3c" stroke="#1a1a1a" stroke-width="0.8"/>
<circle cx="630.11" cy="107.19" r="1.55" fill="#3c3c3c" stroke="#1a1a1a" stroke-width="0.8"/>
<circle cx="639.83" cy="108.22" r="1.55" fill="#3c3c3c" stroke="#1a1a1a" stroke-width="0.8"/>
<circle cx="649.3" cy="110.74" r="1.55" fill="#3c3c3c" stroke="#1a1a1a" stroke-width="0.8"/>
<polyline points="533.72,156.9 534.09,156.84 534.57,156.77 535.14,156.68 535.77,156.58 536.46,156.48 537.18,156.36 537.91,156.24 538.63,156.1 539.33,155.96 539.99,155.81 540.61,155.66 541.24,155.5 541.86,155.34 542.49,155.18 543.12,155 543.74,154.81 544.37,154.6 545,154.37 545.62,154.12 546.25,153.85 546.88,153.55 547.52,153.22 548.16,152.88 548.8,152.52 549.44,152.14 550.07,151.74 550.7,151.33 551.32,150.9 551.92,150.45 552.51,149.99 553.09,149.51 553.66,149 554.22,148.46" fill="none" stroke="#3F7DA0" stroke-width="3.3" stroke-linejoin="round" stroke-linecap="butt"/>
<polyline points="533.72,156.9 534.09,156.84 534.57,156.77 535.14,156.68 535.77,156.58 536.46,156.48 537.18,156.36 537.91,156.24 538.63,156.1 539.33,155.96 539.99,155.81 540.61,155.66 541.24,155.5 541.86,155.34 542.49,155.18 543.12,155 543.74,154.81 544.37,154.6 545,154.37 545.62,154.12 546.25,153.85 546.88,153.55 547.52,153.22 548.16,152.88 548.8,152.52 549.44,152.14 550.07,151.74 550.7,151.33 551.32,150.9 551.92,150.45 552.51,149.99 553.09,149.51 553.66,149 554.22,148.46 554.77,147.91 555.31,147.34 555.84,146.77 556.37,146.2 556.88,145.63 557.39,145.08 557.88,144.54 558.37,144.01 558.84,143.48 559.3,142.95 559.74,142.42 560.18,141.9 560.62,141.38 561.05,140.88 561.49,140.38 561.92,139.91 562.36,139.45 562.79,139.03 563.2,138.64 563.59,138.29 563.98,137.95 564.38,137.61 564.79,137.27 565.22,136.91 565.69,136.52 566.19,136.08 566.75,135.6 567.35,135.05 567.99,134.45 568.66,133.8 569.36,133.13 570.09,132.43 570.84,131.73 571.61,131.04 572.4,130.37 573.19,129.73 574,129.13 574.82,128.57 575.66,128.02 576.53,127.5 577.42,126.99 578.32,126.49 579.23,126.01 580.15,125.54 581.06,125.08 581.96,124.63 582.86,124.19 583.74,123.75 584.64,123.34 585.53,122.94 586.43,122.56 587.32,122.18 588.22,121.81 589.1,121.44 589.98,121.08 590.86,120.71 591.72,120.33 592.56,119.95 593.4,119.57 594.22,119.19 595.04,118.81 595.85,118.43 596.66,118.05 597.47,117.68 598.29,117.32 599.11,116.97 599.95,116.62 600.8,116.29 601.66,115.96 602.52,115.63 603.4,115.31 604.27,114.99 605.14,114.69 606.01,114.39 606.86,114.11 607.71,113.83 608.54,113.57 609.36,113.32 610.16,113.09 610.95,112.87 611.74,112.67 612.52,112.47 613.3,112.27 614.07,112.09 614.85,111.9 615.63,111.72 616.42,111.54 617.25,111.35 618.13,111.15 619.05,110.95 619.98,110.76 620.89,110.57 621.77,110.39 622.58,110.23 623.3,110.08 623.91,109.96 624.38,109.86" fill="none" stroke="#3A7FA6" stroke-width="0.9" stroke-linejoin="round"/>
<circle cx="553.39" cy="149.24" r="1.55" fill="#A9CBDD" stroke="#3A7FA6" stroke-width="0.8"/>
<circle cx="555.31" cy="147.34" r="1.55" fill="#A9CBDD" stroke="#3A7FA6" stroke-width="0.8"/>
<circle cx="557.27" cy="145.21" r="1.55" fill="#A9CBDD" stroke="#3A7FA6" stroke-width="0.8"/>
<circle cx="559.33" cy="142.91" r="1.55" fill="#A9CBDD" stroke="#3A7FA6" stroke-width="0.8"/>
<circle cx="561.48" cy="140.39" r="1.55" fill="#A9CBDD" stroke="#3A7FA6" stroke-width="0.8"/>
<circle cx="564.02" cy="137.92" r="1.55" fill="#A9CBDD" stroke="#3A7FA6" stroke-width="0.8"/>
<circle cx="566.9" cy="135.46" r="1.55" fill="#A9CBDD" stroke="#3A7FA6" stroke-width="0.8"/>
<circle cx="569.84" cy="132.67" r="1.55" fill="#A9CBDD" stroke="#3A7FA6" stroke-width="0.8"/>
<circle cx="573.1" cy="129.8" r="1.55" fill="#A9CBDD" stroke="#3A7FA6" stroke-width="0.8"/>
<circle cx="576.97" cy="127.25" r="1.55" fill="#A9CBDD" stroke="#3A7FA6" stroke-width="0.8"/>
<circle cx="581.37" cy="124.93" r="1.55" fill="#A9CBDD" stroke="#3A7FA6" stroke-width="0.8"/>
<circle cx="586.18" cy="122.67" r="1.55" fill="#A9CBDD" stroke="#3A7FA6" stroke-width="0.8"/>
<circle cx="591.42" cy="120.46" r="1.55" fill="#A9CBDD" stroke="#3A7FA6" stroke-width="0.8"/>
<circle cx="596.95" cy="117.92" r="1.55" fill="#A9CBDD" stroke="#3A7FA6" stroke-width="0.8"/>
<circle cx="602.98" cy="115.46" r="1.55" fill="#A9CBDD" stroke="#3A7FA6" stroke-width="0.8"/>
<circle cx="609.59" cy="113.26" r="1.55" fill="#A9CBDD" stroke="#3A7FA6" stroke-width="0.8"/>
<circle cx="616.82" cy="111.44" r="1.55" fill="#A9CBDD" stroke="#3A7FA6" stroke-width="0.8"/>
<polyline points="531.93,156.9 532.24,156.81 532.63,156.69 533.09,156.55 533.61,156.4 534.17,156.23 534.77,156.05 535.39,155.86 536.03,155.67 536.67,155.49 537.3,155.3 537.95,155.12 538.63,154.93 539.34,154.74 540.08,154.54 540.82,154.34 541.57,154.14 542.32,153.93 543.06,153.71 543.77,153.49 544.46,153.27 545.12,153.04 545.77,152.82 546.41,152.6 547.03,152.37 547.65,152.14 548.26,151.89 548.87,151.63 549.49,151.35 550.1,151.05 550.73,150.72 551.36,150.36 551.99,149.96 552.63,149.55 553.27,149.11 553.91,148.65 554.55,148.19 555.18,147.72 555.79,147.26 556.4,146.8 556.99,146.36 557.56,145.92 558.11,145.48 558.64,145.04" fill="none" stroke="#7DB08F" stroke-width="3.3" stroke-linejoin="round" stroke-linecap="butt"/>
<polyline points="531.93,156.9 532.24,156.81 532.63,156.69 533.09,156.55 533.61,156.4 534.17,156.23 534.77,156.05 535.39,155.86 536.03,155.67 536.67,155.49 537.3,155.3 537.95,155.12 538.63,154.93 539.34,154.74 540.08,154.54 540.82,154.34 541.57,154.14 542.32,153.93 543.06,153.71 543.77,153.49 544.46,153.27 545.12,153.04 545.77,152.82 546.41,152.6 547.03,152.37 547.65,152.14 548.26,151.89 548.87,151.63 549.49,151.35 550.1,151.05 550.73,150.72 551.36,150.36 551.99,149.96 552.63,149.55 553.27,149.11 553.91,148.65 554.55,148.19 555.18,147.72 555.79,147.26 556.4,146.8 556.99,146.36 557.56,145.92 558.11,145.48 558.64,145.04 559.17,144.6 559.69,144.16 560.2,143.72 560.72,143.28 561.25,142.85 561.8,142.42 562.36,142 562.95,141.57 563.56,141.14 564.19,140.71 564.83,140.29 565.47,139.87 566.11,139.45 566.73,139.05 567.33,138.66 567.91,138.28 568.45,137.93 568.93,137.6 569.37,137.29 569.76,137.01 570.13,136.74 570.5,136.48 570.87,136.22 571.27,135.96 571.7,135.69 572.19,135.4 572.74,135.09 573.37,134.75 574.05,134.39 574.78,134.01 575.55,133.62 576.34,133.23 577.15,132.84 577.97,132.46 578.78,132.1 579.58,131.76 580.35,131.46 581.1,131.17 581.86,130.91 582.61,130.67 583.36,130.44 584.11,130.23 584.86,130.02 585.61,129.83 586.36,129.64 587.11,129.46 587.87,129.27 588.62,129.1 589.38,128.93 590.14,128.77 590.9,128.62 591.67,128.48 592.43,128.34 593.19,128.21 593.95,128.08 594.71,127.95 595.48,127.82 596.24,127.7 597,127.58 597.76,127.47 598.52,127.36 599.28,127.25 600.05,127.15 600.81,127.05 601.57,126.94 602.33,126.84 603.08,126.73 603.84,126.61 604.61,126.49 605.38,126.36 606.15,126.23 606.92,126.11 607.68,125.99 608.43,125.88 609.17,125.78 609.9,125.7 610.6,125.64 611.29,125.6 611.96,125.58 612.62,125.58 613.27,125.59 613.91,125.61 614.54,125.64 615.16,125.67 615.77,125.71 616.36,125.75 616.96,125.78 617.56,125.83 618.18,125.88 618.81,125.95 619.43,126.01 620.04,126.08 620.61,126.15 621.14,126.22 621.61,126.28 622.01,126.33 622.33,126.37" fill="none" stroke="#6BA77F" stroke-width="0.9" stroke-linejoin="round"/>
<circle cx="559.58" cy="144.25" r="1.55" fill="#B5D5C0" stroke="#6BA77F" stroke-width="0.8"/>
<circle cx="561.94" cy="142.31" r="1.55" fill="#B5D5C0" stroke="#6BA77F" stroke-width="0.8"/>
<circle cx="564.58" cy="140.45" r="1.55" fill="#B5D5C0" stroke="#6BA77F" stroke-width="0.8"/>
<circle cx="567.45" cy="138.58" r="1.55" fill="#B5D5C0" stroke="#6BA77F" stroke-width="0.8"/>
<circle cx="570.44" cy="136.52" r="1.55" fill="#B5D5C0" stroke="#6BA77F" stroke-width="0.8"/>
<circle cx="573.74" cy="134.55" r="1.55" fill="#B5D5C0" stroke="#6BA77F" stroke-width="0.8"/>
<circle cx="577.39" cy="132.73" r="1.55" fill="#B5D5C0" stroke="#6BA77F" stroke-width="0.8"/>
<circle cx="581.39" cy="131.08" r="1.55" fill="#B5D5C0" stroke="#6BA77F" stroke-width="0.8"/>
<circle cx="585.78" cy="129.79" r="1.55" fill="#B5D5C0" stroke="#6BA77F" stroke-width="0.8"/>
<circle cx="590.52" cy="128.7" r="1.55" fill="#B5D5C0" stroke="#6BA77F" stroke-width="0.8"/>
<circle cx="595.59" cy="127.8" r="1.55" fill="#B5D5C0" stroke="#6BA77F" stroke-width="0.8"/>
<circle cx="600.99" cy="127.02" r="1.55" fill="#B5D5C0" stroke="#6BA77F" stroke-width="0.8"/>
<circle cx="606.71" cy="126.14" r="1.55" fill="#B5D5C0" stroke="#6BA77F" stroke-width="0.8"/>
<circle cx="612.81" cy="125.58" r="1.55" fill="#B5D5C0" stroke="#6BA77F" stroke-width="0.8"/>
<circle cx="619.2" cy="125.99" r="1.55" fill="#B5D5C0" stroke="#6BA77F" stroke-width="0.8"/>
<polyline points="526.56,156.9 526.74,156.7 526.96,156.45 527.22,156.14 527.51,155.79 527.82,155.43 528.16,155.05 528.52,154.68 528.88,154.32 529.24,153.99 529.6,153.7 529.97,153.45 530.37,153.21 530.78,152.98 531.2,152.77 531.63,152.57 532.06,152.37 532.49,152.19 532.91,152.01 533.33,151.83 533.72,151.67 534.08,151.51 534.39,151.36 534.67,151.22 534.95,151.1 535.22,150.97 535.53,150.86 535.87,150.74 536.27,150.62 536.74,150.49 537.3,150.36 537.98,150.21 538.77,150.07 539.65,149.91 540.59,149.76 541.57,149.6 542.55,149.45 543.51,149.3 544.42,149.16 545.25,149.03 545.98,148.9 546.61,148.79 547.17,148.7 547.67,148.61 548.12,148.53 548.55,148.45 548.96,148.38 549.37,148.3 549.79,148.22 550.24,148.13 550.73,148.03 551.25,147.92 551.8,147.81 552.37,147.69 552.95,147.57 553.53,147.44 554.11,147.31 554.68,147.18" fill="none" stroke="#F09A7E" stroke-width="3.3" stroke-linejoin="round" stroke-linecap="butt"/>
<polyline points="526.56,156.9 526.74,156.7 526.96,156.45 527.22,156.14 527.51,155.79 527.82,155.43 528.16,155.05 528.52,154.68 528.88,154.32 529.24,153.99 529.6,153.7 529.97,153.45 530.37,153.21 530.78,152.98 531.2,152.77 531.63,152.57 532.06,152.37 532.49,152.19 532.91,152.01 533.33,151.83 533.72,151.67 534.08,151.51 534.39,151.36 534.67,151.22 534.95,151.1 535.22,150.97 535.53,150.86 535.87,150.74 536.27,150.62 536.74,150.49 537.3,150.36 537.98,150.21 538.77,150.07 539.65,149.91 540.59,149.76 541.57,149.6 542.55,149.45 543.51,149.3 544.42,149.16 545.25,149.03 545.98,148.9 546.61,148.79 547.17,148.7 547.67,148.61 548.12,148.53 548.55,148.45 548.96,148.38 549.37,148.3 549.79,148.22 550.24,148.13 550.73,148.03 551.25,147.92 551.8,147.81 552.37,147.69 552.95,147.57 553.53,147.44 554.11,147.31 554.68,147.18 555.23,147.05 555.77,146.92 556.27,146.79 556.75,146.67 557.2,146.55 557.62,146.43 558.04,146.31 558.44,146.19 558.84,146.07 559.25,145.93 559.67,145.8 560.11,145.65 560.57,145.49 561.05,145.31 561.55,145.12 562.06,144.92 562.58,144.71 563.1,144.5 563.64,144.28 564.18,144.07 564.73,143.86 565.29,143.65 565.85,143.45 566.42,143.26 566.99,143.06 567.57,142.87 568.15,142.68 568.75,142.5 569.35,142.31 569.96,142.13 570.58,141.96 571.21,141.79 571.85,141.63 572.5,141.48 573.17,141.32 573.85,141.17 574.53,141.02 575.23,140.88 575.93,140.75 576.64,140.63 577.34,140.51 578.04,140.41 578.74,140.32 579.43,140.25 580.13,140.18 580.83,140.13 581.53,140.08 582.23,140.05 582.93,140.02 583.63,140.01 584.33,140.01 585.02,140.01 585.72,140.03 586.43,140.07 587.15,140.12 587.89,140.19 588.63,140.27 589.37,140.37 590.08,140.46 590.78,140.56 591.43,140.66 592.05,140.75 592.61,140.83 593.11,140.91 593.57,140.99 593.97,141.06 594.35,141.14 594.7,141.21 595.03,141.29 595.35,141.37 595.68,141.45 596.02,141.54 596.37,141.63 596.75,141.74 597.15,141.85 597.57,141.97 597.99,142.1 598.39,142.23 598.78,142.35 599.14,142.47 599.47,142.57 599.74,142.66 599.95,142.72" fill="none" stroke="#EF8467" stroke-width="0.9" stroke-linejoin="round"/>
<circle cx="555.05" cy="147.09" r="1.55" fill="#F8CDBF" stroke="#EF8467" stroke-width="0.8"/>
<circle cx="557.82" cy="146.38" r="1.55" fill="#F8CDBF" stroke="#EF8467" stroke-width="0.8"/>
<circle cx="560.69" cy="145.44" r="1.55" fill="#F8CDBF" stroke="#EF8467" stroke-width="0.8"/>
<circle cx="563.68" cy="144.27" r="1.55" fill="#F8CDBF" stroke="#EF8467" stroke-width="0.8"/>
<circle cx="566.87" cy="143.1" r="1.55" fill="#F8CDBF" stroke="#EF8467" stroke-width="0.8"/>
<circle cx="570.31" cy="142.04" r="1.55" fill="#F8CDBF" stroke="#EF8467" stroke-width="0.8"/>
<circle cx="574.02" cy="141.13" r="1.55" fill="#F8CDBF" stroke="#EF8467" stroke-width="0.8"/>
<circle cx="577.86" cy="140.44" r="1.55" fill="#F8CDBF" stroke="#EF8467" stroke-width="0.8"/>
<circle cx="581.74" cy="140.07" r="1.55" fill="#F8CDBF" stroke="#EF8467" stroke-width="0.8"/>
<circle cx="585.64" cy="140.03" r="1.55" fill="#F8CDBF" stroke="#EF8467" stroke-width="0.8"/>
<circle cx="589.52" cy="140.39" r="1.55" fill="#F8CDBF" stroke="#EF8467" stroke-width="0.8"/>
<circle cx="593.38" cy="140.96" r="1.55" fill="#F8CDBF" stroke="#EF8467" stroke-width="0.8"/>
<circle cx="597.17" cy="141.86" r="1.55" fill="#F8CDBF" stroke="#EF8467" stroke-width="0.8"/>
<path d="M501.5,11.5 H680.5 V156.9 H501.5 Z" fill="none" stroke="#484848" stroke-width="1"/>
<line x1="498.8" y1="156.9" x2="501.5" y2="156.9" stroke="#555" stroke-width="0.9"/>
<text x="496.9" y="160.28" font-size="9.4" text-anchor="end" fill="#262626" class="g">0</text>
<line x1="498.8" y1="120.55" x2="501.5" y2="120.55" stroke="#555" stroke-width="0.9"/>
<text x="496.9" y="123.93" font-size="9.4" text-anchor="end" fill="#262626" class="g">5</text>
<line x1="498.8" y1="84.2" x2="501.5" y2="84.2" stroke="#555" stroke-width="0.9"/>
<text x="496.9" y="87.58" font-size="9.4" text-anchor="end" fill="#262626" class="g">10</text>
<line x1="498.8" y1="47.85" x2="501.5" y2="47.85" stroke="#555" stroke-width="0.9"/>
<text x="496.9" y="51.23" font-size="9.4" text-anchor="end" fill="#262626" class="g">15</text>
<line x1="498.8" y1="11.5" x2="501.5" y2="11.5" stroke="#555" stroke-width="0.9"/>
<text x="496.9" y="14.88" font-size="9.4" text-anchor="end" fill="#262626" class="g">20</text>
<line x1="501.5" y1="156.9" x2="501.5" y2="159.7" stroke="#555" stroke-width="0.9"/>
<text x="501.5" y="169.8" font-size="9.4" text-anchor="middle" fill="#262626" class="g">0</text>
<line x1="546.25" y1="156.9" x2="546.25" y2="159.7" stroke="#555" stroke-width="0.9"/>
<text x="546.25" y="169.8" font-size="9.4" text-anchor="middle" fill="#262626" class="g">5</text>
<line x1="591" y1="156.9" x2="591" y2="159.7" stroke="#555" stroke-width="0.9"/>
<text x="591" y="169.8" font-size="9.4" text-anchor="middle" fill="#262626" class="g">10</text>
<line x1="635.75" y1="156.9" x2="635.75" y2="159.7" stroke="#555" stroke-width="0.9"/>
<text x="635.75" y="169.8" font-size="9.4" text-anchor="middle" fill="#262626" class="g">15</text>
<line x1="680.5" y1="156.9" x2="680.5" y2="159.7" stroke="#555" stroke-width="0.9"/>
<text x="680.5" y="169.8" font-size="9.4" text-anchor="middle" fill="#262626" class="g">20</text>
<line x1="523.88" y1="156.9" x2="523.88" y2="158.5" stroke="#555" stroke-width="0.9"/>
<line x1="568.62" y1="156.9" x2="568.62" y2="158.5" stroke="#555" stroke-width="0.9"/>
<line x1="613.38" y1="156.9" x2="613.38" y2="158.5" stroke="#555" stroke-width="0.9"/>
<line x1="658.12" y1="156.9" x2="658.12" y2="158.5" stroke="#555" stroke-width="0.9"/>
<text x="590.9" y="183.5" font-size="10.9" text-anchor="middle" fill="#222">Z' (ohm)</text>
<text x="480.7" y="84" font-size="10.8" text-anchor="middle" fill="#222" transform="rotate(-90 480.7 84)">-Z'' (ohm)</text>
<line x1="506.6" y1="18.8" x2="521.6" y2="18.8" stroke="#EF8467" stroke-width="0.9"/>
<circle cx="514.1" cy="18.8" r="1.3" fill="#F8CDBF" stroke="#EF8467" stroke-width="1"/>
<text x="524.1" y="21.6" font-size="7.6" text-anchor="start" fill="#222">MA-NCM811-CO<tspan class="g" font-size="5.17" dy="1.9">2</tspan><tspan dy="-1.9">L</tspan></text>
<line x1="506.6" y1="29.7" x2="521.6" y2="29.7" stroke="#6FA784" stroke-width="0.9"/>
<circle cx="514.1" cy="29.7" r="1.3" fill="#CDE3D5" stroke="#6FA784" stroke-width="1"/>
<text x="524.1" y="32.5" font-size="7.6" text-anchor="start" fill="#222">MA-NCM622-CO<tspan class="g" font-size="5.17" dy="1.9">2</tspan><tspan dy="-1.9">L</tspan></text>
<line x1="506.6" y1="40.6" x2="521.6" y2="40.6" stroke="#3A7FA6" stroke-width="0.9"/>
<circle cx="514.1" cy="40.6" r="1.3" fill="#A9CBDD" stroke="#3A7FA6" stroke-width="1"/>
<text x="524.1" y="43.4" font-size="7.6" text-anchor="start" fill="#222">MA-NCM111-CO<tspan class="g" font-size="5.17" dy="1.9">2</tspan><tspan dy="-1.9">L</tspan></text>
<line x1="506.6" y1="51.5" x2="521.6" y2="51.5" stroke="#1a1a1a" stroke-width="0.9"/>
<circle cx="514.1" cy="51.5" r="1.3" fill="#3c3c3c" stroke="#1a1a1a" stroke-width="1"/>
<text x="524.1" y="54.3" font-size="7.6" text-anchor="start" fill="#222">Co<tspan class="g" font-size="5.17" dy="1.9">3</tspan><tspan dy="-1.9">O</tspan><tspan class="g" font-size="5.17" dy="1.9">4</tspan><tspan dy="-1.9"></tspan></text>
<text x="675.6" y="22.2" font-size="8" text-anchor="end" fill="#222">@ 350 mV</text>
<line x1="47.1" y1="317.91" x2="200.5" y2="240.26" stroke="#EF8467" stroke-width="1"/>
<rect x="45.4" y="316.87" width="3.4" height="3.4" fill="#EF8467" stroke="none" stroke-width="0"/>
<rect x="83.75" y="296.85" width="3.4" height="3.4" fill="#EF8467" stroke="none" stroke-width="0"/>
<rect x="122.1" y="276.26" width="3.4" height="3.4" fill="#EF8467" stroke="none" stroke-width="0"/>
<rect x="160.45" y="257.41" width="3.4" height="3.4" fill="#EF8467" stroke="none" stroke-width="0"/>
<rect x="198.8" y="239.53" width="3.4" height="3.4" fill="#EF8467" stroke="none" stroke-width="0"/>
<line x1="47.1" y1="323.07" x2="200.5" y2="262.52" stroke="#6FA784" stroke-width="1"/>
<rect x="45.4" y="322.09" width="3.4" height="3.4" fill="#6FA784" stroke="none" stroke-width="0"/>
<rect x="83.75" y="306.04" width="3.4" height="3.4" fill="#6FA784" stroke="none" stroke-width="0"/>
<rect x="122.1" y="290.28" width="3.4" height="3.4" fill="#6FA784" stroke="none" stroke-width="0"/>
<rect x="160.45" y="275.3" width="3.4" height="3.4" fill="#6FA784" stroke="none" stroke-width="0"/>
<rect x="198.8" y="261.76" width="3.4" height="3.4" fill="#6FA784" stroke="none" stroke-width="0"/>
<line x1="47.1" y1="329.08" x2="200.5" y2="268.45" stroke="#8E8E8E" stroke-width="1"/>
<rect x="45.4" y="327.69" width="3.4" height="3.4" fill="#8E8E8E" stroke="none" stroke-width="0"/>
<rect x="83.75" y="312.42" width="3.4" height="3.4" fill="#8E8E8E" stroke="none" stroke-width="0"/>
<rect x="122.1" y="296.56" width="3.4" height="3.4" fill="#8E8E8E" stroke="none" stroke-width="0"/>
<rect x="160.45" y="281.1" width="3.4" height="3.4" fill="#8E8E8E" stroke="none" stroke-width="0"/>
<rect x="198.8" y="267.56" width="3.4" height="3.4" fill="#8E8E8E" stroke="none" stroke-width="0"/>
<line x1="47.1" y1="329.32" x2="200.5" y2="278.23" stroke="#1a1a1a" stroke-width="1.4"/>
<rect x="45.4" y="328.95" width="3.4" height="3.4" fill="#1a1a1a" stroke="none" stroke-width="0"/>
<rect x="83.75" y="313.68" width="3.4" height="3.4" fill="#1a1a1a" stroke="none" stroke-width="0"/>
<rect x="122.1" y="301.4" width="3.4" height="3.4" fill="#1a1a1a" stroke="none" stroke-width="0"/>
<rect x="160.45" y="288.83" width="3.4" height="3.4" fill="#1a1a1a" stroke="none" stroke-width="0"/>
<rect x="198.8" y="277.52" width="3.4" height="3.4" fill="#1a1a1a" stroke="none" stroke-width="0"/>
<line x1="47.1" y1="331.44" x2="200.5" y2="281.64" stroke="#2C62A0" stroke-width="1"/>
<rect x="45.4" y="330.88" width="3.4" height="3.4" fill="#2C62A0" stroke="none" stroke-width="0"/>
<rect x="83.75" y="316.67" width="3.4" height="3.4" fill="#2C62A0" stroke="none" stroke-width="0"/>
<rect x="122.1" y="303.82" width="3.4" height="3.4" fill="#2C62A0" stroke="none" stroke-width="0"/>
<rect x="160.45" y="291.73" width="3.4" height="3.4" fill="#2C62A0" stroke="none" stroke-width="0"/>
<rect x="198.8" y="281.1" width="3.4" height="3.4" fill="#2C62A0" stroke="none" stroke-width="0"/>
<path d="M34.5,204.5 H213.5 V349.5 H34.5 Z" fill="none" stroke="#484848" stroke-width="1"/>
<line x1="31.8" y1="349.5" x2="34.5" y2="349.5" stroke="#555" stroke-width="0.9"/>
<text x="29.9" y="352.88" font-size="9.4" text-anchor="end" fill="#262626" class="g">0.0</text>
<line x1="31.8" y1="301.17" x2="34.5" y2="301.17" stroke="#555" stroke-width="0.9"/>
<text x="29.9" y="304.55" font-size="9.4" text-anchor="end" fill="#262626" class="g">0.5</text>
<line x1="31.8" y1="252.83" x2="34.5" y2="252.83" stroke="#555" stroke-width="0.9"/>
<text x="29.9" y="256.21" font-size="9.4" text-anchor="end" fill="#262626" class="g">1.0</text>
<line x1="31.8" y1="204.5" x2="34.5" y2="204.5" stroke="#555" stroke-width="0.9"/>
<text x="29.9" y="207.88" font-size="9.4" text-anchor="end" fill="#262626" class="g">1.5</text>
<line x1="32.9" y1="325.33" x2="34.5" y2="325.33" stroke="#555" stroke-width="0.9"/>
<line x1="32.9" y1="277" x2="34.5" y2="277" stroke="#555" stroke-width="0.9"/>
<line x1="32.9" y1="228.66" x2="34.5" y2="228.66" stroke="#555" stroke-width="0.9"/>
<line x1="47.1" y1="349.5" x2="47.1" y2="352.3" stroke="#555" stroke-width="0.9"/>
<text x="47.1" y="362.2" font-size="9.4" text-anchor="middle" fill="#262626" class="g">20</text>
<line x1="85.45" y1="349.5" x2="85.45" y2="352.3" stroke="#555" stroke-width="0.9"/>
<text x="85.45" y="362.2" font-size="9.4" text-anchor="middle" fill="#262626" class="g">40</text>
<line x1="123.8" y1="349.5" x2="123.8" y2="352.3" stroke="#555" stroke-width="0.9"/>
<text x="123.8" y="362.2" font-size="9.4" text-anchor="middle" fill="#262626" class="g">60</text>
<line x1="162.15" y1="349.5" x2="162.15" y2="352.3" stroke="#555" stroke-width="0.9"/>
<text x="162.15" y="362.2" font-size="9.4" text-anchor="middle" fill="#262626" class="g">80</text>
<line x1="200.5" y1="349.5" x2="200.5" y2="352.3" stroke="#555" stroke-width="0.9"/>
<text x="200.5" y="362.2" font-size="9.4" text-anchor="middle" fill="#262626" class="g">100</text>
<line x1="66.28" y1="349.5" x2="66.28" y2="351.1" stroke="#555" stroke-width="0.9"/>
<line x1="104.62" y1="349.5" x2="104.62" y2="351.1" stroke="#555" stroke-width="0.9"/>
<line x1="142.97" y1="349.5" x2="142.97" y2="351.1" stroke="#555" stroke-width="0.9"/>
<line x1="181.32" y1="349.5" x2="181.32" y2="351.1" stroke="#555" stroke-width="0.9"/>
<text x="123.6" y="375.2" font-size="11.1" text-anchor="middle" fill="#222">Scan rate (mV s<tspan class="g" font-size="7.55" dy="-4.44">-1</tspan><tspan dy="4.44">)</tspan></text>
<text x="10.4" y="277.6" font-size="10.8" text-anchor="middle" fill="#222" transform="rotate(-90 10.4 277.6)">&#916;j (mA cm<tspan class="g" font-size="7.34" dy="-4.32">-2</tspan><tspan dy="4.32">)</tspan></text>
<line x1="38.2" y1="212.4" x2="53.5" y2="212.4" stroke="#EF8467" stroke-width="1"/>
<text x="57.4" y="215.9" font-size="7.8" text-anchor="start" fill="#222">MA-NCM811-CO<tspan class="g" font-size="5.17" dy="1.9">2</tspan><tspan dy="-1.9">L</tspan></text>
<text x="130.3" y="215.9" font-size="7.8" text-anchor="start" fill="#EF8467">(10.01 mF cm<tspan class="g" font-size="5.17" dy="-3.04">-2</tspan><tspan dy="3.04">)</tspan></text>
<line x1="38.2" y1="223.8" x2="53.5" y2="223.8" stroke="#6FA784" stroke-width="1"/>
<text x="57.4" y="226.7" font-size="7.8" text-anchor="start" fill="#222">MA-NCM622-CO<tspan class="g" font-size="5.17" dy="1.9">2</tspan><tspan dy="-1.9">L</tspan></text>
<text x="130.3" y="226.7" font-size="7.8" text-anchor="start" fill="#6FA784">(7.83 mF cm<tspan class="g" font-size="5.17" dy="-3.04">-2</tspan><tspan dy="3.04">)</tspan></text>
<line x1="38.2" y1="235.2" x2="53.5" y2="235.2" stroke="#2C62A0" stroke-width="1"/>
<text x="57.4" y="237.9" font-size="7.8" text-anchor="start" fill="#222">MA-NCM111-CO<tspan class="g" font-size="5.17" dy="1.9">2</tspan><tspan dy="-1.9">L</tspan></text>
<text x="130.3" y="237.9" font-size="7.8" text-anchor="start" fill="#2C62A0">(6.49 mF cm<tspan class="g" font-size="5.17" dy="-3.04">-2</tspan><tspan dy="3.04">)</tspan></text>
<line x1="38.2" y1="246.6" x2="53.5" y2="246.6" stroke="#8E8E8E" stroke-width="1"/>
<text x="57.4" y="249.1" font-size="7.8" text-anchor="start" fill="#222">MA-S-LTM-CO<tspan class="g" font-size="5.17" dy="1.9">2</tspan><tspan dy="-1.9">L</tspan></text>
<text x="130.3" y="249.1" font-size="7.8" text-anchor="start" fill="#8E8E8E">(7.96 mF cm<tspan class="g" font-size="5.17" dy="-3.04">-2</tspan><tspan dy="3.04">)</tspan></text>
<line x1="38.2" y1="258" x2="53.5" y2="258" stroke="#6a6a6a" stroke-width="1.8"/>
<text x="57.4" y="260.9" font-size="7.8" text-anchor="start" fill="#222">Co<tspan class="g" font-size="5.17" dy="1.9">3</tspan><tspan dy="-1.9">O</tspan><tspan class="g" font-size="5.17" dy="1.9">4</tspan><tspan dy="-1.9"></tspan></text>
<text x="86" y="260.9" font-size="7.8" text-anchor="start" fill="#222">(6.52 mF cm<tspan class="g" font-size="5.17" dy="-3.04">-2</tspan><tspan dy="3.04">)</tspan></text>
<polyline points="271.9,312.2 275.45,312.13 279,312.06 282.55,311.99 286.11,311.92 289.66,311.85 293.21,311.78 296.76,311.71 300.31,311.64 303.86,311.57 307.42,311.5" fill="none" stroke="#8a8a8a" stroke-width="0.8" stroke-linejoin="round"/>
<polyline points="309.84,312.8 313.5,312.41 317.16,312.11 320.81,311.89 324.47,311.72 328.13,311.61 331.79,311.55 335.44,311.51 339.1,311.5 342.76,311.5" fill="none" stroke="#8a8a8a" stroke-width="0.8" stroke-linejoin="round"/>
<polyline points="344.92,312.8 348.31,312.45 351.71,312.17 355.11,311.95 358.51,311.78 361.91,311.66 365.31,311.58 368.71,311.54 372.11,311.51 375.51,311.5 378.91,311.5" fill="none" stroke="#8a8a8a" stroke-width="0.8" stroke-linejoin="round"/>
<polyline points="381.06,312.8 384.72,312.45 388.37,312.17 392.02,311.95 395.67,311.78 399.32,311.66 402.97,311.58 406.62,311.54 410.27,311.51 413.92,311.5 417.57,311.5" fill="none" stroke="#8a8a8a" stroke-width="0.8" stroke-linejoin="round"/>
<polyline points="419.73,312.8 423.03,312.41 426.34,312.11 429.65,311.89 432.96,311.72 436.27,311.61 439.58,311.55 442.88,311.51 446.19,311.5 449.5,311.5" fill="none" stroke="#8a8a8a" stroke-width="0.8" stroke-linejoin="round"/>
<circle cx="271.9" cy="312.2" r="1.45" fill="#b8b8b8" stroke="#7c7c7c" stroke-width="0.9"/>
<circle cx="275.45" cy="312.13" r="1.45" fill="#b8b8b8" stroke="#7c7c7c" stroke-width="0.9"/>
<circle cx="279" cy="312.06" r="1.45" fill="#b8b8b8" stroke="#7c7c7c" stroke-width="0.9"/>
<circle cx="282.55" cy="311.99" r="1.45" fill="#b8b8b8" stroke="#7c7c7c" stroke-width="0.9"/>
<circle cx="286.11" cy="311.92" r="1.45" fill="#b8b8b8" stroke="#7c7c7c" stroke-width="0.9"/>
<circle cx="289.66" cy="311.85" r="1.45" fill="#b8b8b8" stroke="#7c7c7c" stroke-width="0.9"/>
<circle cx="293.21" cy="311.78" r="1.45" fill="#b8b8b8" stroke="#7c7c7c" stroke-width="0.9"/>
<circle cx="296.76" cy="311.71" r="1.45" fill="#b8b8b8" stroke="#7c7c7c" stroke-width="0.9"/>
<circle cx="300.31" cy="311.64" r="1.45" fill="#b8b8b8" stroke="#7c7c7c" stroke-width="0.9"/>
<circle cx="303.86" cy="311.57" r="1.45" fill="#b8b8b8" stroke="#7c7c7c" stroke-width="0.9"/>
<circle cx="307.42" cy="311.5" r="1.45" fill="#b8b8b8" stroke="#7c7c7c" stroke-width="0.9"/>
<circle cx="309.84" cy="312.8" r="1.45" fill="#b8b8b8" stroke="#7c7c7c" stroke-width="0.9"/>
<circle cx="313.5" cy="312.41" r="1.45" fill="#b8b8b8" stroke="#7c7c7c" stroke-width="0.9"/>
<circle cx="317.16" cy="312.11" r="1.45" fill="#b8b8b8" stroke="#7c7c7c" stroke-width="0.9"/>
<circle cx="320.81" cy="311.89" r="1.45" fill="#b8b8b8" stroke="#7c7c7c" stroke-width="0.9"/>
<circle cx="324.47" cy="311.72" r="1.45" fill="#b8b8b8" stroke="#7c7c7c" stroke-width="0.9"/>
<circle cx="328.13" cy="311.61" r="1.45" fill="#b8b8b8" stroke="#7c7c7c" stroke-width="0.9"/>
<circle cx="331.79" cy="311.55" r="1.45" fill="#b8b8b8" stroke="#7c7c7c" stroke-width="0.9"/>
<circle cx="335.44" cy="311.51" r="1.45" fill="#b8b8b8" stroke="#7c7c7c" stroke-width="0.9"/>
<circle cx="339.1" cy="311.5" r="1.45" fill="#b8b8b8" stroke="#7c7c7c" stroke-width="0.9"/>
<circle cx="342.76" cy="311.5" r="1.45" fill="#b8b8b8" stroke="#7c7c7c" stroke-width="0.9"/>
<circle cx="344.92" cy="312.8" r="1.45" fill="#b8b8b8" stroke="#7c7c7c" stroke-width="0.9"/>
<circle cx="348.31" cy="312.45" r="1.45" fill="#b8b8b8" stroke="#7c7c7c" stroke-width="0.9"/>
<circle cx="351.71" cy="312.17" r="1.45" fill="#b8b8b8" stroke="#7c7c7c" stroke-width="0.9"/>
<circle cx="355.11" cy="311.95" r="1.45" fill="#b8b8b8" stroke="#7c7c7c" stroke-width="0.9"/>
<circle cx="358.51" cy="311.78" r="1.45" fill="#b8b8b8" stroke="#7c7c7c" stroke-width="0.9"/>
<circle cx="361.91" cy="311.66" r="1.45" fill="#b8b8b8" stroke="#7c7c7c" stroke-width="0.9"/>
<circle cx="365.31" cy="311.58" r="1.45" fill="#b8b8b8" stroke="#7c7c7c" stroke-width="0.9"/>
<circle cx="368.71" cy="311.54" r="1.45" fill="#b8b8b8" stroke="#7c7c7c" stroke-width="0.9"/>
<circle cx="372.11" cy="311.51" r="1.45" fill="#b8b8b8" stroke="#7c7c7c" stroke-width="0.9"/>
<circle cx="375.51" cy="311.5" r="1.45" fill="#b8b8b8" stroke="#7c7c7c" stroke-width="0.9"/>
<circle cx="378.91" cy="311.5" r="1.45" fill="#b8b8b8" stroke="#7c7c7c" stroke-width="0.9"/>
<circle cx="381.06" cy="312.8" r="1.45" fill="#b8b8b8" stroke="#7c7c7c" stroke-width="0.9"/>
<circle cx="384.72" cy="312.45" r="1.45" fill="#b8b8b8" stroke="#7c7c7c" stroke-width="0.9"/>
<circle cx="388.37" cy="312.17" r="1.45" fill="#b8b8b8" stroke="#7c7c7c" stroke-width="0.9"/>
<circle cx="392.02" cy="311.95" r="1.45" fill="#b8b8b8" stroke="#7c7c7c" stroke-width="0.9"/>
<circle cx="395.67" cy="311.78" r="1.45" fill="#b8b8b8" stroke="#7c7c7c" stroke-width="0.9"/>
<circle cx="399.32" cy="311.66" r="1.45" fill="#b8b8b8" stroke="#7c7c7c" stroke-width="0.9"/>
<circle cx="402.97" cy="311.58" r="1.45" fill="#b8b8b8" stroke="#7c7c7c" stroke-width="0.9"/>
<circle cx="406.62" cy="311.54" r="1.45" fill="#b8b8b8" stroke="#7c7c7c" stroke-width="0.9"/>
<circle cx="410.27" cy="311.51" r="1.45" fill="#b8b8b8" stroke="#7c7c7c" stroke-width="0.9"/>
<circle cx="413.92" cy="311.5" r="1.45" fill="#b8b8b8" stroke="#7c7c7c" stroke-width="0.9"/>
<circle cx="417.57" cy="311.5" r="1.45" fill="#b8b8b8" stroke="#7c7c7c" stroke-width="0.9"/>
<circle cx="419.73" cy="312.8" r="1.45" fill="#b8b8b8" stroke="#7c7c7c" stroke-width="0.9"/>
<circle cx="423.03" cy="312.41" r="1.45" fill="#b8b8b8" stroke="#7c7c7c" stroke-width="0.9"/>
<circle cx="426.34" cy="312.11" r="1.45" fill="#b8b8b8" stroke="#7c7c7c" stroke-width="0.9"/>
<circle cx="429.65" cy="311.89" r="1.45" fill="#b8b8b8" stroke="#7c7c7c" stroke-width="0.9"/>
<circle cx="432.96" cy="311.72" r="1.45" fill="#b8b8b8" stroke="#7c7c7c" stroke-width="0.9"/>
<circle cx="436.27" cy="311.61" r="1.45" fill="#b8b8b8" stroke="#7c7c7c" stroke-width="0.9"/>
<circle cx="439.58" cy="311.55" r="1.45" fill="#b8b8b8" stroke="#7c7c7c" stroke-width="0.9"/>
<circle cx="442.88" cy="311.51" r="1.45" fill="#b8b8b8" stroke="#7c7c7c" stroke-width="0.9"/>
<circle cx="446.19" cy="311.5" r="1.45" fill="#b8b8b8" stroke="#7c7c7c" stroke-width="0.9"/>
<circle cx="449.5" cy="311.5" r="1.45" fill="#b8b8b8" stroke="#7c7c7c" stroke-width="0.9"/>
<path d="M308.04,317.0 L306.34,321.0 L309.74,321.0 Z" fill="#111"/>
<line x1="308.04" y1="321" x2="308.04" y2="330.8" stroke="#555" stroke-width="0.9" stroke-dasharray="1.1,0.9"/>
<path d="M343.12,317.0 L341.42,321.0 L344.82,321.0 Z" fill="#111"/>
<line x1="343.12" y1="321" x2="343.12" y2="330.8" stroke="#555" stroke-width="0.9" stroke-dasharray="1.1,0.9"/>
<path d="M379.26,317.0 L377.56,321.0 L380.96,321.0 Z" fill="#111"/>
<line x1="379.26" y1="321" x2="379.26" y2="330.8" stroke="#555" stroke-width="0.9" stroke-dasharray="1.1,0.9"/>
<path d="M417.93,317.0 L416.23,321.0 L419.63,321.0 Z" fill="#111"/>
<line x1="417.93" y1="321" x2="417.93" y2="330.8" stroke="#555" stroke-width="0.9" stroke-dasharray="1.1,0.9"/>
<text x="364.1" y="341.4" font-size="8.5" text-anchor="middle" fill="#222">Electrolyte replacement (1M KOH)</text>
<path d="M270.1,204.5 H449.5 V349.9 H270.1 Z" fill="none" stroke="#484848" stroke-width="1"/>
<line x1="267.4" y1="349.7" x2="270.1" y2="349.7" stroke="#555" stroke-width="0.9"/>
<text x="265.5" y="353.08" font-size="9.4" text-anchor="end" fill="#262626" class="g">0</text>
<line x1="267.4" y1="325.5" x2="270.1" y2="325.5" stroke="#555" stroke-width="0.9"/>
<text x="265.5" y="328.88" font-size="9.4" text-anchor="end" fill="#262626" class="g">1</text>
<line x1="267.4" y1="301.3" x2="270.1" y2="301.3" stroke="#555" stroke-width="0.9"/>
<text x="265.5" y="304.68" font-size="9.4" text-anchor="end" fill="#262626" class="g">2</text>
<line x1="267.4" y1="277.1" x2="270.1" y2="277.1" stroke="#555" stroke-width="0.9"/>
<text x="265.5" y="280.48" font-size="9.4" text-anchor="end" fill="#262626" class="g">3</text>
<line x1="267.4" y1="252.9" x2="270.1" y2="252.9" stroke="#555" stroke-width="0.9"/>
<text x="265.5" y="256.28" font-size="9.4" text-anchor="end" fill="#262626" class="g">4</text>
<line x1="267.4" y1="228.7" x2="270.1" y2="228.7" stroke="#555" stroke-width="0.9"/>
<text x="265.5" y="232.08" font-size="9.4" text-anchor="end" fill="#262626" class="g">5</text>
<line x1="267.4" y1="204.5" x2="270.1" y2="204.5" stroke="#555" stroke-width="0.9"/>
<text x="265.5" y="207.88" font-size="9.4" text-anchor="end" fill="#262626" class="g">6</text>
<line x1="270.1" y1="349.9" x2="270.1" y2="352.7" stroke="#555" stroke-width="0.9"/>
<text x="270.1" y="361.9" font-size="9.4" text-anchor="middle" fill="#262626" class="g">0</text>
<line x1="314.95" y1="349.9" x2="314.95" y2="352.7" stroke="#555" stroke-width="0.9"/>
<text x="314.95" y="361.9" font-size="9.4" text-anchor="middle" fill="#262626" class="g">50</text>
<line x1="359.8" y1="349.9" x2="359.8" y2="352.7" stroke="#555" stroke-width="0.9"/>
<text x="359.8" y="361.9" font-size="9.4" text-anchor="middle" fill="#262626" class="g">100</text>
<line x1="404.65" y1="349.9" x2="404.65" y2="352.7" stroke="#555" stroke-width="0.9"/>
<text x="404.65" y="361.9" font-size="9.4" text-anchor="middle" fill="#262626" class="g">150</text>
<line x1="449.5" y1="349.9" x2="449.5" y2="352.7" stroke="#555" stroke-width="0.9"/>
<text x="449.5" y="361.9" font-size="9.4" text-anchor="middle" fill="#262626" class="g">200</text>
<text x="360.6" y="373.4" font-size="11.1" text-anchor="middle" fill="#222">Time (h)</text>
<text x="254" y="277" font-size="11.1" text-anchor="middle" fill="#222" transform="rotate(-90 254 277)">Potential (V vs. RHE)</text>
<circle cx="277.6" cy="212.5" r="1.25" fill="#b4b4b4" stroke="#8a8a8a" stroke-width="0.9"/>
<text x="290" y="215.3" font-size="8.2" text-anchor="start" fill="#222">MA-S-LTMO-CO<tspan class="g" font-size="5.58" dy="2.05">2</tspan><tspan dy="-2.05">L</tspan></text>
<text x="445.6" y="216.4" font-size="9" text-anchor="end" fill="#222">J=10 mA cm<tspan class="g" font-size="6.12" dy="-3.6">-2</tspan><tspan dy="3.6"></tspan></text>
<rect x="369.9" y="224.4" width="74.9" height="68.6" fill="#fff" stroke="#555" stroke-width="0.8"/>
<svg x="369.9" y="224.4" width="74.9" height="68.6" overflow="hidden"><g transform="translate(-369.9,-224.4)">
<polyline points="369.9,285.52 370.79,285.49 371.94,285.45 373.3,285.41 374.82,285.36 376.46,285.3 378.18,285.24 379.93,285.18 381.66,285.11 383.33,285.04 384.9,284.96 386.44,284.88 388.04,284.8 389.68,284.71 391.33,284.61 392.96,284.51 394.55,284.41 396.06,284.31 397.48,284.21 398.76,284.12 399.9,284.02 400.87,283.94 401.71,283.85 402.43,283.77 403.06,283.68 403.6,283.6 404.09,283.51 404.55,283.43 404.99,283.34 405.43,283.25 405.9,283.15 406.36,283.07 406.77,283 407.14,282.95 407.49,282.9 407.82,282.85 408.15,282.77 408.49,282.66 408.84,282.5 409.22,282.3 409.65,282.02 410.12,281.69 410.62,281.3 411.14,280.87 411.69,280.4 412.24,279.89 412.79,279.35 413.34,278.79 413.88,278.21 414.4,277.62 414.9,277.02 415.35,276.46 415.74,275.96 416.11,275.48 416.45,274.99 416.8,274.46 417.18,273.86 417.59,273.14 418.06,272.29 418.61,271.26 419.25,270.02 420,268.54 420.85,266.82 421.77,264.92 422.76,262.87 423.78,260.71 424.82,258.5 425.87,256.29 426.9,254.1 427.9,252 428.85,250.02 429.78,248.1 430.73,246.14 431.69,244.16 432.64,242.2 433.57,240.27 434.48,238.41 435.34,236.63 436.15,234.95 436.89,233.41 437.55,232.02 438.12,230.81 438.62,229.74 439.05,228.8 439.42,227.97 439.75,227.22 440.05,226.54 440.33,225.9 440.6,225.28 440.87,224.66 441.15,224.02 441.44,223.37 441.72,222.73 442,222.11 442.26,221.52 442.5,220.96 442.73,220.44 442.93,219.97 443.12,219.55 443.27,219.19 443.4,218.9" fill="none" stroke="#333" stroke-width="0.55" stroke-linejoin="round"/>
<circle cx="370.9" cy="285.49" r="1.2" fill="#8a8a8a" stroke="#333" stroke-width="0.45"/>
<circle cx="374.5" cy="285.37" r="1.2" fill="#8a8a8a" stroke="#333" stroke-width="0.45"/>
<circle cx="378.1" cy="285.24" r="1.2" fill="#8a8a8a" stroke="#333" stroke-width="0.45"/>
<circle cx="381.7" cy="285.11" r="1.2" fill="#8a8a8a" stroke="#333" stroke-width="0.45"/>
<circle cx="385.3" cy="284.94" r="1.2" fill="#8a8a8a" stroke="#333" stroke-width="0.45"/>
<circle cx="388.89" cy="284.75" r="1.2" fill="#8a8a8a" stroke="#333" stroke-width="0.45"/>
<circle cx="392.49" cy="284.54" r="1.2" fill="#8a8a8a" stroke="#333" stroke-width="0.45"/>
<circle cx="396.09" cy="284.31" r="1.2" fill="#8a8a8a" stroke="#333" stroke-width="0.45"/>
<circle cx="399.69" cy="284.04" r="1.2" fill="#8a8a8a" stroke="#333" stroke-width="0.45"/>
<circle cx="403.28" cy="283.65" r="1.2" fill="#8a8a8a" stroke="#333" stroke-width="0.45"/>
<circle cx="406.86" cy="282.99" r="1.2" fill="#8a8a8a" stroke="#333" stroke-width="0.45"/>
<circle cx="410.32" cy="281.54" r="1.2" fill="#8a8a8a" stroke="#333" stroke-width="0.45"/>
<circle cx="413.47" cy="278.65" r="1.2" fill="#8a8a8a" stroke="#333" stroke-width="0.45"/>
<circle cx="416.37" cy="275.11" r="1.2" fill="#8a8a8a" stroke="#333" stroke-width="0.45"/>
<circle cx="418.86" cy="270.77" r="1.2" fill="#8a8a8a" stroke="#333" stroke-width="0.45"/>
<circle cx="421.17" cy="266.17" r="1.2" fill="#8a8a8a" stroke="#333" stroke-width="0.45"/>
<circle cx="423.41" cy="261.48" r="1.2" fill="#8a8a8a" stroke="#333" stroke-width="0.45"/>
<circle cx="425.64" cy="256.77" r="1.2" fill="#8a8a8a" stroke="#333" stroke-width="0.45"/>
<circle cx="427.87" cy="252.06" r="1.2" fill="#8a8a8a" stroke="#333" stroke-width="0.45"/>
<circle cx="430.13" cy="247.38" r="1.2" fill="#8a8a8a" stroke="#333" stroke-width="0.45"/>
<circle cx="432.39" cy="242.71" r="1.2" fill="#8a8a8a" stroke="#333" stroke-width="0.45"/>
<circle cx="434.65" cy="238.05" r="1.2" fill="#8a8a8a" stroke="#333" stroke-width="0.45"/>
<circle cx="436.91" cy="233.37" r="1.2" fill="#8a8a8a" stroke="#333" stroke-width="0.45"/>
<circle cx="439.12" cy="228.64" r="1.2" fill="#8a8a8a" stroke="#333" stroke-width="0.45"/>
<circle cx="441.25" cy="223.8" r="1.2" fill="#8a8a8a" stroke="#333" stroke-width="0.45"/>
<circle cx="443.37" cy="218.96" r="1.2" fill="#8a8a8a" stroke="#333" stroke-width="0.45"/>
<polyline points="369.9,285.27 370.79,285.24 371.94,285.2 373.3,285.15 374.82,285.09 376.46,285.03 378.18,284.97 379.93,284.89 381.66,284.82 383.33,284.74 384.9,284.65 386.45,284.56 388.07,284.45 389.73,284.34 391.4,284.22 393.06,284.1 394.66,283.97 396.17,283.85 397.57,283.73 398.83,283.62 399.9,283.52 400.78,283.44 401.5,283.36 402.08,283.28 402.55,283.21 402.93,283.15 403.24,283.08 403.52,283.01 403.79,282.94 404.08,282.86 404.4,282.77 404.72,282.7 405,282.64 405.23,282.59 405.45,282.55 405.65,282.49 405.85,282.41 406.07,282.31 406.32,282.16 406.61,281.97 406.95,281.71 407.35,281.4 407.79,281.04 408.27,280.65 408.77,280.21 409.29,279.74 409.83,279.24 410.36,278.72 410.89,278.17 411.41,277.6 411.9,277.02 412.36,276.48 412.8,275.98 413.21,275.5 413.62,275.02 414.04,274.48 414.47,273.87 414.92,273.15 415.41,272.29 415.95,271.26 416.55,270.02 417.22,268.54 417.94,266.82 418.72,264.92 419.54,262.87 420.37,260.71 421.23,258.5 422.08,256.29 422.91,254.1 423.73,252 424.5,250.02 425.26,248.1 426.04,246.14 426.82,244.16 427.6,242.2 428.36,240.27 429.1,238.41 429.79,236.63 430.44,234.95 431.03,233.41 431.55,232.02 431.99,230.81 432.36,229.74 432.67,228.8 432.93,227.97 433.15,227.22 433.35,226.54 433.53,225.9 433.71,225.28 433.9,224.66 434.1,224.02 434.32,223.37 434.54,222.73 434.75,222.11 434.96,221.52 435.16,220.96 435.35,220.44 435.52,219.97 435.67,219.55 435.8,219.19 435.9,218.9" fill="none" stroke="#333" stroke-width="0.55" stroke-linejoin="round"/>
<circle cx="370.9" cy="285.24" r="1.2" fill="#fff" stroke="#333" stroke-width="0.45"/>
<circle cx="374.5" cy="285.11" r="1.2" fill="#fff" stroke="#333" stroke-width="0.45"/>
<circle cx="378.1" cy="284.97" r="1.2" fill="#fff" stroke="#333" stroke-width="0.45"/>
<circle cx="381.7" cy="284.82" r="1.2" fill="#fff" stroke="#333" stroke-width="0.45"/>
<circle cx="385.29" cy="284.63" r="1.2" fill="#fff" stroke="#333" stroke-width="0.45"/>
<circle cx="388.89" cy="284.39" r="1.2" fill="#fff" stroke="#333" stroke-width="0.45"/>
<circle cx="392.49" cy="284.14" r="1.2" fill="#fff" stroke="#333" stroke-width="0.45"/>
<circle cx="396.09" cy="283.86" r="1.2" fill="#fff" stroke="#333" stroke-width="0.45"/>
<circle cx="399.68" cy="283.55" r="1.2" fill="#fff" stroke="#333" stroke-width="0.45"/>
<circle cx="403.27" cy="283.07" r="1.2" fill="#fff" stroke="#333" stroke-width="0.45"/>
<circle cx="406.77" cy="281.84" r="1.2" fill="#fff" stroke="#333" stroke-width="0.45"/>
<circle cx="409.97" cy="279.1" r="1.2" fill="#fff" stroke="#333" stroke-width="0.45"/>
<circle cx="412.97" cy="275.78" r="1.2" fill="#fff" stroke="#333" stroke-width="0.45"/>
<circle cx="415.66" cy="271.82" r="1.2" fill="#fff" stroke="#333" stroke-width="0.45"/>
<circle cx="417.85" cy="267.06" r="1.2" fill="#fff" stroke="#333" stroke-width="0.45"/>
<circle cx="419.85" cy="262.07" r="1.2" fill="#fff" stroke="#333" stroke-width="0.45"/>
<circle cx="421.79" cy="257.02" r="1.2" fill="#fff" stroke="#333" stroke-width="0.45"/>
<circle cx="423.74" cy="251.97" r="1.2" fill="#fff" stroke="#333" stroke-width="0.45"/>
<circle cx="425.71" cy="246.96" r="1.2" fill="#fff" stroke="#333" stroke-width="0.45"/>
<circle cx="427.7" cy="241.95" r="1.2" fill="#fff" stroke="#333" stroke-width="0.45"/>
<circle cx="429.67" cy="236.94" r="1.2" fill="#fff" stroke="#333" stroke-width="0.45"/>
<circle cx="431.61" cy="231.87" r="1.2" fill="#fff" stroke="#333" stroke-width="0.45"/>
<circle cx="433.33" cy="226.61" r="1.2" fill="#fff" stroke="#333" stroke-width="0.45"/>
<circle cx="435.03" cy="221.32" r="1.2" fill="#fff" stroke="#333" stroke-width="0.45"/>
</g></svg>
<line x1="368.6" y1="286.4" x2="369.9" y2="286.4" stroke="#555" stroke-width="0.5"/>
<text x="368" y="288.2" font-size="5.1" text-anchor="end" fill="#1a1a1a" class="g" stroke="#1a1a1a" stroke-width="0.1">0</text>
<line x1="368.6" y1="273.9" x2="369.9" y2="273.9" stroke="#555" stroke-width="0.5"/>
<text x="368" y="275.7" font-size="5.1" text-anchor="end" fill="#1a1a1a" class="g" stroke="#1a1a1a" stroke-width="0.1">20</text>
<line x1="368.6" y1="261.4" x2="369.9" y2="261.4" stroke="#555" stroke-width="0.5"/>
<text x="368" y="263.2" font-size="5.1" text-anchor="end" fill="#1a1a1a" class="g" stroke="#1a1a1a" stroke-width="0.1">40</text>
<line x1="368.6" y1="248.9" x2="369.9" y2="248.9" stroke="#555" stroke-width="0.5"/>
<text x="368" y="250.7" font-size="5.1" text-anchor="end" fill="#1a1a1a" class="g" stroke="#1a1a1a" stroke-width="0.1">60</text>
<line x1="368.6" y1="236.4" x2="369.9" y2="236.4" stroke="#555" stroke-width="0.5"/>
<text x="368" y="238.2" font-size="5.1" text-anchor="end" fill="#1a1a1a" class="g" stroke="#1a1a1a" stroke-width="0.1">80</text>
<line x1="368.6" y1="223.9" x2="369.9" y2="223.9" stroke="#555" stroke-width="0.5"/>
<text x="368" y="225.7" font-size="5.1" text-anchor="end" fill="#1a1a1a" class="g" stroke="#1a1a1a" stroke-width="0.1">100</text>
<line x1="369.9" y1="293" x2="369.9" y2="294.3" stroke="#555" stroke-width="0.5"/>
<text x="370.3" y="299.4" font-size="5.2" text-anchor="middle" fill="#1a1a1a" class="g" stroke="#1a1a1a" stroke-width="0.1">1.3</text>
<line x1="384.9" y1="293" x2="384.9" y2="294.3" stroke="#555" stroke-width="0.5"/>
<text x="385.3" y="299.4" font-size="5.2" text-anchor="middle" fill="#1a1a1a" class="g" stroke="#1a1a1a" stroke-width="0.1">1.4</text>
<line x1="399.9" y1="293" x2="399.9" y2="294.3" stroke="#555" stroke-width="0.5"/>
<text x="400.3" y="299.4" font-size="5.2" text-anchor="middle" fill="#1a1a1a" class="g" stroke="#1a1a1a" stroke-width="0.1">1.5</text>
<line x1="414.9" y1="293" x2="414.9" y2="294.3" stroke="#555" stroke-width="0.5"/>
<text x="415.3" y="299.4" font-size="5.2" text-anchor="middle" fill="#1a1a1a" class="g" stroke="#1a1a1a" stroke-width="0.1">1.6</text>
<line x1="429.9" y1="293" x2="429.9" y2="294.3" stroke="#555" stroke-width="0.5"/>
<text x="430.3" y="299.4" font-size="5.2" text-anchor="middle" fill="#1a1a1a" class="g" stroke="#1a1a1a" stroke-width="0.1">1.7</text>
<line x1="444.9" y1="293" x2="444.9" y2="294.3" stroke="#555" stroke-width="0.5"/>
<text x="445.3" y="299.4" font-size="5.2" text-anchor="middle" fill="#1a1a1a" class="g" stroke="#1a1a1a" stroke-width="0.1">1.8</text>
<text x="407.7" y="305.9" font-size="5.75" text-anchor="middle" fill="#1a1a1a" class="g" stroke="#1a1a1a" stroke-width="0.1">Potential (V vs. RHE)</text>
<text x="357.9" y="259.6" font-size="5.5" text-anchor="middle" fill="#1a1a1a" transform="rotate(-90 357.9 259.6)" class="g" stroke="#1a1a1a" stroke-width="0.1">Current density (mA cm<tspan class="g" font-size="3.74" dy="-2.2">-2</tspan><tspan dy="2.2">)</tspan></text>
<line x1="372.5" y1="229.3" x2="383.7" y2="229.3" stroke="#333" stroke-width="0.55"/>
<circle cx="378.1" cy="229.3" r="1.15" fill="#8a8a8a" stroke="#333" stroke-width="0.45"/>
<text x="386.5" y="231.2" font-size="5.4" text-anchor="start" fill="#1a1a1a" class="g" stroke="#1a1a1a" stroke-width="0.1">Before</text>
<line x1="372.5" y1="236.7" x2="383.7" y2="236.7" stroke="#333" stroke-width="0.55"/>
<circle cx="378.1" cy="236.7" r="1.15" fill="#fff" stroke="#333" stroke-width="0.45"/>
<text x="386.5" y="238.6" font-size="5.4" text-anchor="start" fill="#1a1a1a" class="g" stroke="#1a1a1a" stroke-width="0.1">After</text>
<rect x="503.4" y="272.46" width="9.5" height="77.74" fill="#F7D3C8" stroke="none" stroke-width="0"/>
<text x="510.8" y="345.6" font-size="7.5" text-anchor="start" fill="#222" transform="rotate(-90 510.8 345.6)">MA-NCM811-CO<tspan class="g" font-size="5.1" dy="1.88">2</tspan><tspan dy="-1.88">L</tspan></text>
<rect x="518.4" y="268.83" width="9.5" height="81.37" fill="#CFE0D5" stroke="none" stroke-width="0"/>
<text x="525.8" y="345.6" font-size="7.5" text-anchor="start" fill="#222" transform="rotate(-90 525.8 345.6)">MA-NCM622-CO<tspan class="g" font-size="5.1" dy="1.88">2</tspan><tspan dy="-1.88">L</tspan></text>
<rect x="533.4" y="265.93" width="9.5" height="84.27" fill="#A9C7D4" stroke="none" stroke-width="0"/>
<text x="540.8" y="345.6" font-size="7.5" text-anchor="start" fill="#222" transform="rotate(-90 540.8 345.6)">MA-NCM111-CO<tspan class="g" font-size="5.1" dy="1.88">2</tspan><tspan dy="-1.88">L</tspan></text>
<rect x="548.4" y="267.38" width="9.5" height="82.82" fill="#FBE1A1" stroke="none" stroke-width="0"/>
<text x="555.8" y="345.6" font-size="7.5" text-anchor="start" fill="#222" transform="rotate(-90 555.8 345.6)">MA-S-LTMO-CO<tspan class="g" font-size="5.1" dy="1.88">2</tspan><tspan dy="-1.88">L</tspan></text>
<rect x="563.4" y="267.62" width="9.5" height="82.58" fill="#D4D4D4" stroke="none" stroke-width="0"/>
<text x="570.8" y="345.6" font-size="7.5" text-anchor="start" fill="#222" transform="rotate(-90 570.8 345.6)">NiMnCo-AC</text>
<rect x="578.4" y="267.62" width="9.5" height="82.58" fill="#D4D4D4" stroke="none" stroke-width="0"/>
<text x="585.8" y="345.6" font-size="7.5" text-anchor="start" fill="#222" transform="rotate(-90 585.8 345.6)">Co<tspan class="g" font-size="5.1" dy="1.88">3</tspan><tspan dy="-1.88">O</tspan><tspan class="g" font-size="5.1" dy="1.88">4</tspan><tspan dy="-1.88">/C</tspan></text>
<rect x="593.4" y="265.44" width="9.5" height="84.76" fill="#D4D4D4" stroke="none" stroke-width="0"/>
<text x="600.8" y="345.6" font-size="7.5" text-anchor="start" fill="#222" transform="rotate(-90 600.8 345.6)">Ni(OH)<tspan class="g" font-size="5.1" dy="1.88">2</tspan><tspan dy="-1.88"></tspan></text>
<rect x="608.4" y="262.78" width="9.5" height="87.42" fill="#D4D4D4" stroke="none" stroke-width="0"/>
<text x="615.8" y="345.6" font-size="7.5" text-anchor="start" fill="#222" transform="rotate(-90 615.8 345.6)">Spinel Li<tspan class="g" font-size="5.1" dy="1.88">2</tspan><tspan dy="-1.88">Co</tspan><tspan class="g" font-size="5.1" dy="1.88">2</tspan><tspan dy="-1.88">O</tspan><tspan class="g" font-size="5.1" dy="1.88">4</tspan><tspan dy="-1.88"></tspan></text>
<rect x="623.4" y="257.93" width="9.5" height="92.27" fill="#D4D4D4" stroke="none" stroke-width="0"/>
<text x="630.8" y="345.6" font-size="7.5" text-anchor="start" fill="#222" transform="rotate(-90 630.8 345.6)">5%Ni-Co<tspan class="g" font-size="5.1" dy="1.88">3</tspan><tspan dy="-1.88">O</tspan><tspan class="g" font-size="5.1" dy="1.88">4</tspan><tspan dy="-1.88"></tspan></text>
<rect x="638.4" y="248.25" width="9.5" height="101.95" fill="#D4D4D4" stroke="none" stroke-width="0"/>
<text x="645.8" y="345.6" font-size="7.5" text-anchor="start" fill="#222" transform="rotate(-90 645.8 345.6)">NiCoOOH</text>
<rect x="653.4" y="240.74" width="9.5" height="109.46" fill="#D4D4D4" stroke="none" stroke-width="0"/>
<text x="660.8" y="345.6" font-size="7.5" text-anchor="start" fill="#222" transform="rotate(-90 660.8 345.6)">NiOOH</text>
<rect x="668.4" y="217.13" width="9.5" height="133.07" fill="#D4D4D4" stroke="none" stroke-width="0"/>
<text x="675.8" y="345.6" font-size="7.5" text-anchor="start" fill="#222" transform="rotate(-90 675.8 345.6)">CP4(LiCoO<tspan class="g" font-size="5.1" dy="1.88">2</tspan><tspan dy="-1.88">)</tspan></text>
<path d="M500.6,204.9 H680.5 V350.2 H500.6 Z" fill="none" stroke="#484848" stroke-width="1"/>
<line x1="497.9" y1="350.2" x2="500.6" y2="350.2" stroke="#555" stroke-width="0.9"/>
<text x="496" y="353.58" font-size="9.4" text-anchor="end" fill="#262626" class="g">0</text>
<line x1="497.9" y1="325.98" x2="500.6" y2="325.98" stroke="#555" stroke-width="0.9"/>
<text x="496" y="329.37" font-size="9.4" text-anchor="end" fill="#262626" class="g">100</text>
<line x1="497.9" y1="301.77" x2="500.6" y2="301.77" stroke="#555" stroke-width="0.9"/>
<text x="496" y="305.15" font-size="9.4" text-anchor="end" fill="#262626" class="g">200</text>
<line x1="497.9" y1="277.55" x2="500.6" y2="277.55" stroke="#555" stroke-width="0.9"/>
<text x="496" y="280.93" font-size="9.4" text-anchor="end" fill="#262626" class="g">300</text>
<line x1="497.9" y1="253.33" x2="500.6" y2="253.33" stroke="#555" stroke-width="0.9"/>
<text x="496" y="256.72" font-size="9.4" text-anchor="end" fill="#262626" class="g">400</text>
<line x1="497.9" y1="229.12" x2="500.6" y2="229.12" stroke="#555" stroke-width="0.9"/>
<text x="496" y="232.5" font-size="9.4" text-anchor="end" fill="#262626" class="g">500</text>
<line x1="497.9" y1="204.9" x2="500.6" y2="204.9" stroke="#555" stroke-width="0.9"/>
<text x="496" y="208.28" font-size="9.4" text-anchor="end" fill="#262626" class="g">600</text>
<text x="590.9" y="368.9" font-size="10.8" text-anchor="middle" fill="#222">Catalyts</text>
<text x="475" y="277.4" font-size="11.1" text-anchor="middle" fill="#222" transform="rotate(-90 475 277.4)">&#951;<tspan dx="0.8">@</tspan>10 mV cm<tspan class="g" font-size="7.55" dy="-4.44">-2</tspan><tspan dy="4.44"> (mV)</tspan></text>
<text x="529.8" y="243" font-size="8" text-anchor="middle" fill="#222">This work</text>
<path d="M504,257.6 Q505,254.1 509.5,254.1 L523.5,254.1 Q527.8,254.1 528.5,251 Q529.2,254.1 533.5,254.1 L547.5,254.1 Q552,254.1 552.6,257.3" fill="none" stroke="#D83A3A" stroke-width="0.9"/>
</svg>
</body></html>
